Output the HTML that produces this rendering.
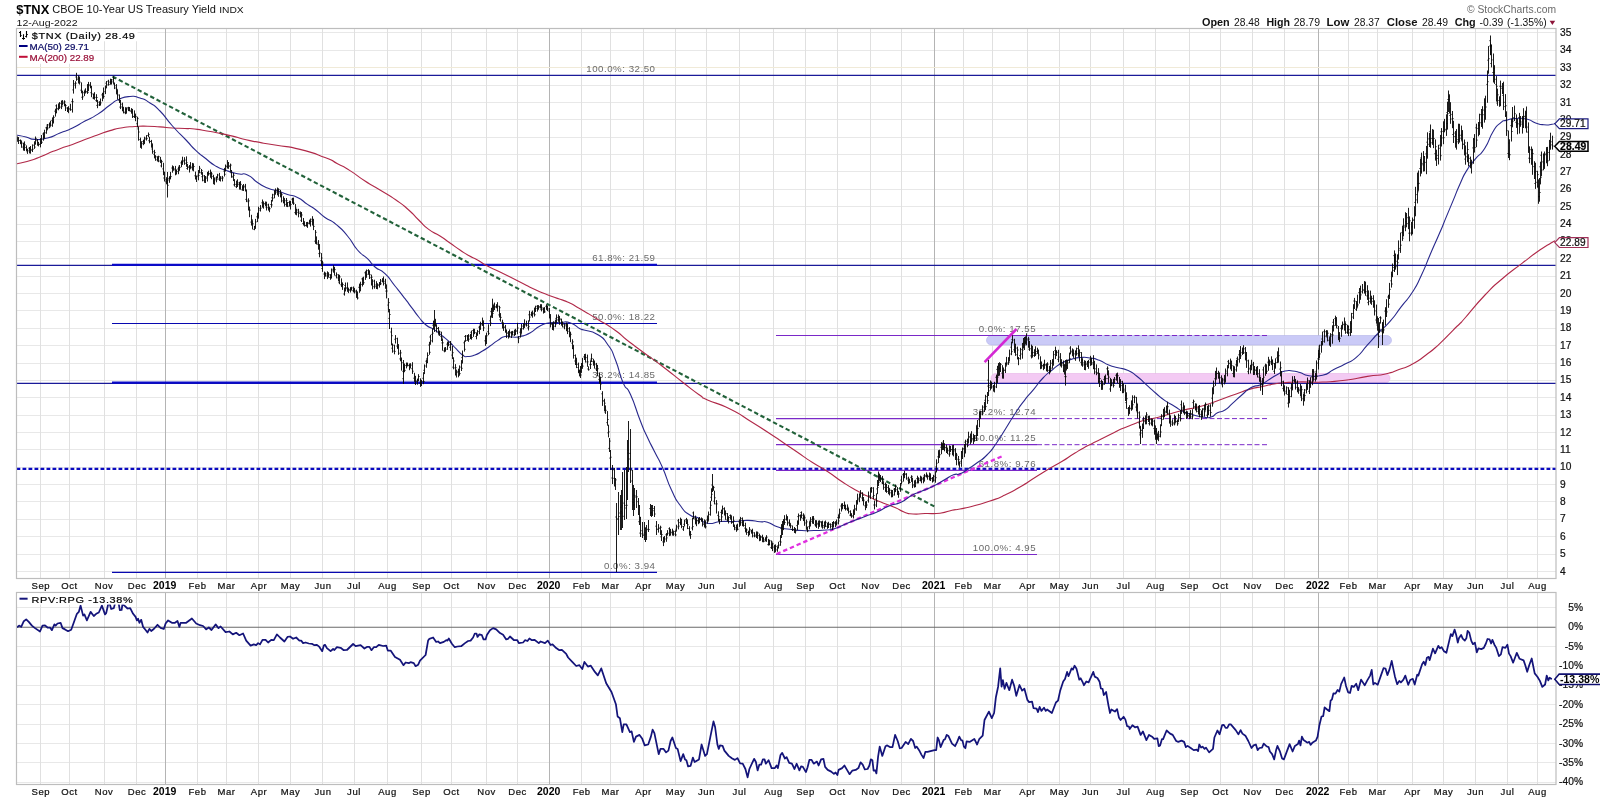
<!DOCTYPE html>
<html><head><meta charset="utf-8"><title>$TNX</title>
<style>
html,body{margin:0;padding:0;background:#fff;width:1600px;height:800px;overflow:hidden}
svg{will-change:transform}
svg text{font-family:"Liberation Sans", sans-serif}
svg text.ax{stroke:#111;stroke-width:0.22px}
</style></head><body>
<svg width="1600" height="800" viewBox="0 0 1600 800" style="position:absolute;left:0;top:0">
<rect width="1600" height="800" fill="#fff"/>
<path d="M16.5 571.5H1556.0M16.5 554.5H1556.0M16.5 536.5H1556.0M16.5 519.5H1556.0M16.5 501.5H1556.0M16.5 484.5H1556.0M16.5 467.5H1556.0M16.5 449.5H1556.0M16.5 432.5H1556.0M16.5 415.5H1556.0M16.5 397.5H1556.0M16.5 380.5H1556.0M16.5 363.5H1556.0M16.5 345.5H1556.0M16.5 328.5H1556.0M16.5 310.5H1556.0M16.5 293.5H1556.0M16.5 276.5H1556.0M16.5 258.5H1556.0M16.5 241.5H1556.0M16.5 224.5H1556.0M16.5 206.5H1556.0M16.5 189.5H1556.0M16.5 171.5H1556.0M16.5 154.5H1556.0M16.5 137.5H1556.0M16.5 119.5H1556.0M16.5 102.5H1556.0M16.5 85.5H1556.0M16.5 67.5H1556.0M16.5 50.5H1556.0M16.5 32.5H1556.0" stroke="#e8e8e8" stroke-width="1" fill="none"/>
<path d="M40.5 28.5V578.5M69.5 28.5V578.5M104.5 28.5V578.5M136.5 28.5V578.5M197.5 28.5V578.5M226.5 28.5V578.5M258.5 28.5V578.5M290.5 28.5V578.5M322.5 28.5V578.5M354.5 28.5V578.5M387.5 28.5V578.5M421.5 28.5V578.5M451.5 28.5V578.5M486.5 28.5V578.5M517.5 28.5V578.5M581.5 28.5V578.5M610.5 28.5V578.5M643.5 28.5V578.5M675.5 28.5V578.5M706.5 28.5V578.5M739.5 28.5V578.5M773.5 28.5V578.5M805.5 28.5V578.5M837.5 28.5V578.5M870.5 28.5V578.5M901.5 28.5V578.5M963.5 28.5V578.5M992.5 28.5V578.5M1027.5 28.5V578.5M1059.5 28.5V578.5M1090.5 28.5V578.5M1123.5 28.5V578.5M1155.5 28.5V578.5M1189.5 28.5V578.5M1220.5 28.5V578.5M1252.5 28.5V578.5M1284.5 28.5V578.5M1348.5 28.5V578.5M1377.5 28.5V578.5M1412.5 28.5V578.5M1443.5 28.5V578.5M1475.5 28.5V578.5M1507.5 28.5V578.5M1537.5 28.5V578.5" stroke="#e0e0e0" stroke-width="1" fill="none"/>
<path d="M165.5 28.5V578.5M549.5 28.5V578.5M934.5 28.5V578.5M1318.5 28.5V578.5" stroke="#b4b4b4" stroke-width="1" fill="none"/>
<path d="M16.5 67.5H1556.0" stroke="#f0ead8" stroke-width="1"/>
<rect x="986.5" y="335.5" width="405" height="9.5" rx="4.7" fill="#cacaf7" stroke="#b4b4ea" stroke-width="0.6"/>
<rect x="991" y="373.5" width="399" height="9.5" rx="4.7" fill="#f3caf3" stroke="#e6b2e6" stroke-width="0.6"/>
<path d="M16.5 75.4H1556.0 M16.5 265.4H1556.0 M16.5 383.45H1556.0" stroke="#1a1a99" stroke-width="1.25" fill="none"/>
<path d="M112 264.8H657 M112 382.6H657" stroke="#0a0ac8" stroke-width="2.2" fill="none"/>
<path d="M112 323.5H657 M112 572.3H657" stroke="#0808b0" stroke-width="1.15" fill="none"/>
<path d="M16.5 468.8H1556.0" stroke="#0a0ac0" stroke-width="2.2" stroke-dasharray="3.8 2.2" fill="none"/>
<path d="M776 335.5H1037M776 418.6H1037M776 444.7H1037M776 470.3H1037M776 554.5H1037" stroke="#7a28c8" stroke-width="1.2" fill="none"/>
<path d="M1037 335.5H1267M1037 418.6H1267M1037 444.7H1267" stroke="#7a28c8" stroke-width="1" stroke-dasharray="5 2.5" fill="none"/>
<text x="655.5" y="71.9" font-size="9.7" fill="#6a6a6a" text-anchor="end" letter-spacing="0.52">100.0%: 32.50</text>
<text x="655.5" y="260.6" font-size="9.7" fill="#6a6a6a" text-anchor="end" letter-spacing="0.52">61.8%: 21.59</text>
<text x="655.5" y="319.9" font-size="9.7" fill="#6a6a6a" text-anchor="end" letter-spacing="0.52">50.0%: 18.22</text>
<text x="655.5" y="378.4" font-size="9.7" fill="#6a6a6a" text-anchor="end" letter-spacing="0.52">38.2%: 14.85</text>
<text x="655.5" y="568.7" font-size="9.7" fill="#6a6a6a" text-anchor="end" letter-spacing="0.52">0.0%: 3.94</text>
<text x="1036.1" y="331.9" font-size="9.7" fill="#6a6a6a" text-anchor="end" letter-spacing="0.52">0.0%: 17.55</text>
<text x="1036.1" y="415.0" font-size="9.7" fill="#6a6a6a" text-anchor="end" letter-spacing="0.52">38.2%: 12.74</text>
<text x="1036.1" y="441.1" font-size="9.7" fill="#6a6a6a" text-anchor="end" letter-spacing="0.52">50.0%: 11.25</text>
<text x="1036.1" y="466.7" font-size="9.7" fill="#6a6a6a" text-anchor="end" letter-spacing="0.52">61.8%: 9.76</text>
<text x="1036.1" y="550.9" font-size="9.7" fill="#6a6a6a" text-anchor="end" letter-spacing="0.52">100.0%: 4.95</text>
<path d="M112.5 76.5L934.5 506.5" stroke="#22623a" stroke-width="2.1" stroke-dasharray="4.4 2.7" fill="none"/>
<path d="M776.5 554L1002 456.3" stroke="#e030e0" stroke-width="2.3" stroke-dasharray="4.4 2.9" fill="none"/>
<path d="M984.6 362.2L1016.5 329" stroke="#d428d4" stroke-width="2.6" fill="none"/>
<path d="M16.0 164.0C21.9 162.5 23.2 162.8 33.7 159.4C44.2 156.0 38.7 157.3 47.5 153.7C56.3 150.1 51.7 151.8 60.0 148.7C68.3 145.6 64.2 147.5 72.5 144.4C80.8 141.3 76.7 142.5 85.0 139.4C93.3 136.3 89.2 137.9 97.5 135.0C105.8 132.1 101.7 133.0 110.0 130.6C118.3 128.2 114.2 129.1 122.5 127.7C130.8 126.3 126.7 127.0 135.0 126.5C143.3 126.0 139.2 126.1 147.5 126.2C155.8 126.3 151.7 126.3 160.0 126.9C168.3 127.5 164.2 127.5 172.5 128.0C180.8 128.5 176.7 128.0 185.0 128.5C193.3 129.0 184.2 127.4 197.5 129.4C210.8 131.4 207.5 130.7 225.0 134.4C242.5 138.1 233.3 137.1 250.0 140.6C266.7 144.1 258.3 142.1 275.0 145.0C291.7 147.9 283.3 145.2 300.0 149.4C316.7 153.6 312.5 152.7 325.0 157.5C337.5 162.3 329.2 159.3 337.5 163.7C345.8 168.1 340.8 164.8 350.0 170.6C359.2 176.4 355.0 174.5 365.0 181.0C375.0 187.5 369.7 183.7 380.0 190.0C390.3 196.3 386.4 193.3 396.0 200.0C405.6 206.7 401.1 203.3 408.7 210.0C416.3 216.7 412.0 213.5 418.7 220.0C425.4 226.5 421.6 224.1 428.7 229.4C435.8 234.7 432.9 231.5 440.0 236.0C447.1 240.5 443.3 238.3 450.0 243.0C456.7 247.7 453.8 245.8 460.0 250.0C466.2 254.2 462.9 252.3 468.7 255.6C474.5 258.9 471.2 256.5 477.5 260.0C483.8 263.5 480.0 262.0 487.5 266.0C495.0 270.0 489.8 267.0 500.0 272.0C510.2 277.0 506.0 275.0 518.0 281.0C530.0 287.0 523.7 284.5 536.0 290.0C548.3 295.5 544.5 293.5 555.0 297.5C565.5 301.5 559.2 298.3 567.5 302.0C575.8 305.7 570.2 303.0 580.0 308.7C589.8 314.4 585.4 311.9 597.0 319.0C608.6 326.1 604.5 322.8 614.7 330.0C624.9 337.2 618.2 333.3 627.5 340.5C636.8 347.7 631.0 343.2 642.5 351.7C654.0 360.2 648.5 355.7 662.0 366.0C675.5 376.3 670.5 372.8 683.0 382.5C695.5 392.2 691.3 389.2 699.5 395.0C707.7 400.8 697.3 395.3 707.5 400.0C717.7 404.7 715.0 401.5 730.0 409.0C745.0 416.5 737.5 413.2 752.5 422.5C767.5 431.8 766.0 431.2 775.0 437.0C784.0 442.8 772.5 435.2 779.5 440.0C786.5 444.8 785.0 443.8 796.0 451.3C807.0 458.8 802.0 455.8 812.5 462.5C823.0 469.2 817.5 465.0 827.5 471.5C837.5 478.0 832.5 475.5 842.5 482.0C852.5 488.5 848.0 485.7 857.5 491.0C867.0 496.3 862.5 493.8 871.0 497.8C879.5 501.8 875.0 499.8 883.0 503.0C891.0 506.2 888.0 504.5 895.0 507.5C902.0 510.5 898.0 509.8 904.0 512.0C910.0 514.2 906.0 513.5 913.0 514.0C920.0 514.5 916.0 513.8 925.0 513.5C934.0 513.2 931.0 514.3 940.0 513.2C949.0 512.1 945.3 511.6 952.0 510.2C958.7 508.8 952.3 510.6 960.0 509.0C967.7 507.4 965.0 508.2 975.0 505.5C985.0 502.8 980.0 504.5 990.0 501.0C1000.0 497.5 995.0 499.7 1005.0 495.0C1015.0 490.3 1010.0 492.8 1020.0 487.0C1030.0 481.2 1025.4 483.5 1035.0 477.5C1044.6 471.5 1039.8 474.3 1048.7 469.0C1057.6 463.7 1053.0 466.8 1061.8 461.5C1070.6 456.2 1066.3 458.3 1075.0 453.0C1083.7 447.7 1079.3 450.3 1088.0 445.6C1096.7 440.9 1092.4 443.4 1101.2 439.0C1110.0 434.6 1108.0 435.6 1114.3 432.5C1120.6 429.4 1114.4 432.1 1120.0 429.6C1125.6 427.1 1123.1 428.1 1131.2 425.0C1139.3 421.9 1135.6 422.8 1144.4 420.3C1153.2 417.8 1148.8 419.7 1157.5 417.5C1166.2 415.3 1161.9 416.2 1170.6 413.7C1179.3 411.2 1174.9 412.2 1183.7 410.0C1192.5 407.8 1188.1 409.4 1196.9 407.2C1205.7 405.0 1201.3 406.2 1210.0 403.4C1218.7 400.6 1214.3 401.8 1223.0 398.7C1231.7 395.6 1227.4 397.1 1236.2 394.0C1245.0 390.9 1240.5 391.9 1249.3 389.4C1258.1 386.9 1253.7 388.4 1262.5 386.5C1271.3 384.6 1266.9 385.1 1275.6 383.7C1284.3 382.3 1280.0 383.0 1288.7 382.4C1297.4 381.8 1290.5 382.0 1301.8 381.9C1313.1 381.8 1308.1 382.6 1322.5 382.0C1336.9 381.4 1330.0 382.1 1345.0 380.2C1360.0 378.3 1354.0 378.5 1367.5 376.4C1381.0 374.3 1375.0 376.3 1385.5 374.0C1396.0 371.7 1390.0 372.9 1399.0 369.6C1408.0 366.3 1403.5 368.9 1412.5 364.0C1421.5 359.1 1417.0 361.7 1426.0 355.0C1435.0 348.3 1430.5 352.0 1439.5 343.8C1448.5 335.6 1446.2 337.1 1453.0 330.3C1459.8 323.5 1456.0 327.6 1460.0 323.5C1464.0 319.4 1456.7 327.5 1465.0 318.0C1473.3 308.5 1472.7 308.0 1485.0 295.0C1497.3 282.0 1489.7 289.5 1502.0 279.0C1514.3 268.5 1510.3 272.4 1522.0 263.4C1533.7 254.4 1527.3 258.8 1537.0 252.0C1546.7 245.2 1545.0 246.7 1551.0 243.0C1557.0 239.3 1553.7 241.7 1555.0 241.0" stroke="#b02848" stroke-width="1.1" fill="none" stroke-linejoin="round"/>
<path d="M16.0 135.0C19.3 135.7 19.7 135.5 26.0 137.0C32.3 138.5 27.8 139.1 35.0 139.4C42.2 139.7 39.2 140.1 47.5 138.0C55.8 135.9 51.7 136.3 60.0 133.0C68.3 129.7 64.2 132.0 72.5 128.0C80.8 124.0 76.7 125.5 85.0 121.0C93.3 116.5 89.2 119.7 97.5 114.4C105.8 109.1 102.9 110.0 110.0 105.0C117.1 100.0 112.0 102.2 118.7 99.4C125.4 96.6 122.9 97.0 130.0 96.5C137.1 96.0 133.3 95.8 140.0 98.0C146.7 100.2 143.3 98.7 150.0 103.0C156.7 107.3 152.5 103.3 160.0 111.0C167.5 118.7 163.8 116.3 172.5 126.0C181.2 135.7 178.2 131.8 186.0 140.0C193.8 148.2 189.3 144.4 196.0 150.6C202.7 156.8 199.7 153.7 206.0 158.7C212.3 163.7 208.7 161.8 215.0 165.6C221.3 169.4 217.5 167.3 225.0 170.0C232.5 172.7 230.0 172.0 237.5 173.7C245.0 175.4 240.8 172.1 247.5 175.0C254.2 177.9 250.8 178.2 257.5 182.5C264.2 186.8 260.8 185.2 267.5 188.0C274.2 190.8 270.8 188.9 277.5 191.0C284.2 193.1 280.8 192.2 287.5 194.4C294.2 196.6 290.8 194.2 297.5 197.5C304.2 200.8 301.3 200.2 307.5 204.4C313.7 208.6 310.2 205.6 316.0 210.0C321.8 214.4 318.3 212.7 325.0 217.5C331.7 222.3 328.5 218.2 336.0 224.4C343.5 230.6 340.3 227.5 347.5 236.0C354.7 244.5 350.8 242.4 357.5 250.0C364.2 257.6 361.7 253.0 367.5 258.7C373.3 264.4 369.2 262.0 375.0 267.0C380.8 272.0 378.3 267.4 385.0 273.7C391.7 280.0 388.3 277.7 395.0 286.0C401.7 294.3 399.2 291.1 405.0 298.7C410.8 306.3 407.9 302.6 412.5 308.7C417.1 314.8 414.2 311.6 418.7 317.0C423.2 322.4 421.0 320.9 426.0 325.0C431.0 329.1 428.2 325.7 433.7 329.4C439.2 333.1 437.1 331.6 442.5 336.0C447.9 340.4 445.5 338.3 450.0 342.5C454.5 346.7 451.8 344.5 456.0 348.7C460.2 352.9 458.7 352.4 462.5 355.0C466.3 357.6 463.3 356.5 467.5 356.5C471.7 356.5 470.0 356.8 475.0 355.0C480.0 353.2 477.5 354.0 482.5 351.0C487.5 348.0 485.0 349.5 490.0 346.0C495.0 342.5 492.5 343.8 497.5 340.6C502.5 337.4 500.0 337.7 505.0 336.5C510.0 335.3 507.5 337.0 512.5 337.0C517.5 337.0 514.2 337.8 520.0 336.5C525.8 335.2 523.3 336.5 530.0 333.0C536.7 329.5 533.3 329.4 540.0 326.0C546.7 322.6 543.3 323.8 550.0 322.7C556.7 321.6 553.3 322.7 560.0 322.7C566.7 322.7 563.3 320.7 570.0 322.7C576.7 324.7 575.3 326.3 580.0 328.7C584.7 331.1 578.2 328.1 584.0 330.0C589.8 331.9 589.5 329.5 597.5 334.5C605.5 339.5 602.0 336.5 608.0 345.0C614.0 353.5 610.5 347.5 615.5 360.0C620.5 372.5 618.0 371.0 623.0 382.5C628.0 394.0 624.8 382.0 630.5 394.5C636.2 407.0 634.6 406.2 640.0 420.0C645.4 433.8 641.9 425.4 646.8 436.0C651.7 446.6 649.4 441.3 654.6 451.8C659.8 462.3 656.9 454.8 662.5 467.5C668.1 480.2 665.5 477.2 671.5 490.0C677.5 502.8 674.5 497.5 680.5 505.8C686.5 514.1 683.5 510.7 689.5 514.8C695.5 518.9 692.5 515.2 698.5 518.0C704.5 520.8 700.0 522.1 707.5 523.3C715.0 524.5 712.0 522.1 721.0 521.5C730.0 520.9 725.5 521.9 734.5 521.5C743.5 521.1 739.5 520.3 748.0 520.4C756.5 520.5 753.5 521.2 760.0 521.8C766.5 522.4 761.5 520.5 767.5 522.2C773.5 523.9 770.5 524.6 778.0 527.0C785.5 529.4 782.0 528.1 790.0 529.3C798.0 530.5 794.0 530.1 802.0 530.5C810.0 530.9 806.0 530.7 814.0 530.5C822.0 530.3 819.0 530.7 826.0 530.0C833.0 529.3 829.0 530.2 835.0 528.5C841.0 526.8 838.0 527.3 844.0 524.8C850.0 522.3 846.0 523.8 853.0 521.0C860.0 518.2 857.0 519.5 865.0 516.5C873.0 513.5 869.0 515.5 877.0 512.0C885.0 508.5 881.0 509.2 889.0 506.0C897.0 502.8 893.5 505.8 901.0 502.3C908.5 498.8 904.5 499.3 911.5 495.5C918.5 491.7 914.5 494.2 922.0 491.0C929.5 487.8 926.5 489.5 934.0 485.8C941.5 482.1 938.0 483.5 944.5 479.8C951.0 476.1 948.3 476.8 953.5 474.8C958.7 472.8 955.2 475.7 960.0 473.8C964.8 471.9 962.2 472.8 968.0 469.0C973.8 465.2 971.2 467.2 977.5 462.5C983.8 457.8 980.7 461.3 986.9 455.0C993.1 448.7 989.8 452.5 996.0 443.7C1002.2 434.9 999.3 438.7 1005.6 428.7C1011.9 418.7 1008.8 423.1 1015.0 413.7C1021.2 404.3 1018.1 408.7 1024.3 400.6C1030.5 392.5 1027.5 396.9 1033.7 389.4C1039.9 381.9 1036.7 384.6 1043.0 378.0C1049.3 371.4 1046.2 374.7 1052.5 369.7C1058.8 364.7 1055.6 366.4 1061.8 363.0C1068.0 359.6 1064.9 361.2 1071.2 359.4C1077.5 357.6 1074.3 358.0 1080.6 357.5C1086.9 357.0 1083.8 357.1 1090.0 358.0C1096.2 358.9 1093.1 358.0 1099.3 360.3C1105.5 362.6 1102.5 362.5 1108.7 365.0C1114.9 367.5 1111.7 366.1 1118.0 367.8C1124.3 369.5 1121.2 367.4 1127.5 370.2C1133.8 373.0 1130.7 371.4 1136.9 376.2C1143.1 381.0 1140.0 379.1 1146.2 384.7C1152.4 390.3 1149.3 387.7 1155.6 393.0C1161.9 398.3 1158.7 396.2 1165.0 400.6C1171.3 405.0 1168.2 402.5 1174.4 406.2C1180.6 409.9 1177.5 409.0 1183.7 411.8C1189.9 414.6 1186.7 413.0 1193.0 414.7C1199.3 416.4 1196.5 416.2 1202.5 417.0C1208.5 417.8 1206.0 418.4 1211.0 417.0C1216.0 415.6 1212.8 415.1 1217.5 412.8C1222.2 410.5 1220.0 413.1 1225.0 410.0C1230.0 406.9 1226.9 408.4 1232.5 403.4C1238.1 398.4 1235.6 400.3 1241.8 395.0C1248.0 389.7 1244.9 390.9 1251.2 387.5C1257.5 384.1 1254.3 387.5 1260.6 384.7C1266.9 381.9 1264.4 382.4 1270.0 379.0C1275.6 375.6 1272.5 377.1 1277.5 374.4C1282.5 371.7 1280.0 372.1 1285.0 371.0C1290.0 369.9 1287.5 370.5 1292.5 371.0C1297.5 371.5 1294.5 370.9 1300.0 372.5C1305.5 374.1 1301.5 374.8 1309.0 375.7C1316.5 376.6 1314.2 377.3 1322.5 375.3C1330.8 373.3 1326.3 373.4 1333.8 369.6C1341.3 365.8 1337.5 368.1 1345.0 364.0C1352.5 359.9 1348.8 363.7 1356.3 357.3C1363.8 350.9 1360.0 353.2 1367.5 344.9C1375.0 336.6 1371.3 340.4 1378.8 332.5C1386.3 324.6 1382.5 329.9 1390.0 321.3C1397.5 312.7 1393.8 316.4 1401.3 306.6C1408.8 296.8 1405.8 302.5 1412.5 292.0C1419.2 281.5 1415.5 287.7 1421.5 275.0C1427.5 262.3 1424.5 267.7 1430.5 253.8C1436.5 239.9 1434.2 245.6 1439.5 233.3C1444.8 221.0 1441.7 227.9 1446.3 216.9C1450.9 205.9 1448.6 211.4 1453.2 200.4C1457.8 189.4 1455.4 194.0 1460.0 183.9C1464.6 173.8 1461.9 178.3 1467.0 170.1C1472.1 161.9 1469.3 166.5 1475.2 159.2C1481.1 151.9 1478.9 157.4 1484.8 148.2C1490.7 139.0 1487.9 140.0 1493.0 131.7C1498.1 123.4 1495.4 127.3 1500.0 123.4C1504.6 119.5 1501.3 121.7 1506.8 120.1C1512.3 118.5 1509.5 118.8 1516.4 118.5C1523.3 118.2 1521.0 117.8 1527.4 119.3C1533.8 120.8 1530.1 121.1 1535.6 122.9C1541.1 124.7 1538.4 124.3 1543.9 124.8C1549.4 125.3 1548.3 124.8 1552.0 124.3C1555.7 123.8 1554.0 123.7 1555.0 123.4" stroke="#28288c" stroke-width="1.1" fill="none" stroke-linejoin="round"/>
<path d="M17.5 136.4V141.8M17.5 139.7h-1.1M17.5 137.5h1.1M18.5 137.2V144.0M18.5 138.5h-1.1M18.5 140.6h1.1M20.5 139.5V144.2M20.5 140.4h-1.1M20.5 140.5h1.1M21.5 141.0V147.8M21.5 142.6h-1.1M21.5 143.1h1.1M23.5 142.7V150.6M23.5 147.1h-1.1M23.5 146.1h1.1M24.5 141.4V150.9M24.5 148.6h-1.1M24.5 144.8h1.1M26.5 145.4V151.0M26.5 147.5h-1.1M26.5 149.5h1.1M27.5 148.7V153.9M27.5 151.8h-1.1M27.5 150.8h1.1M29.5 147.0V153.4M29.5 148.2h-1.1M29.5 148.9h1.1M30.5 146.0V153.7M30.5 148.8h-1.1M30.5 150.3h1.1M32.5 144.4V152.0M32.5 149.7h-1.1M32.5 149.2h1.1M34.5 141.3V148.9M34.5 145.2h-1.1M34.5 147.1h1.1M35.5 136.5V144.7M35.5 143.3h-1.1M35.5 138.4h1.1M37.5 139.0V145.5M37.5 140.6h-1.1M37.5 142.2h1.1M38.5 142.0V146.4M38.5 145.0h-1.1M38.5 144.5h1.1M40.5 138.2V147.4M40.5 144.1h-1.1M40.5 143.4h1.1M41.5 135.0V144.0M41.5 141.7h-1.1M41.5 142.3h1.1M43.5 132.4V140.7M43.5 134.0h-1.1M43.5 137.7h1.1M44.5 129.7V138.7M44.5 136.2h-1.1M44.5 132.8h1.1M46.5 126.6V133.8M46.5 127.8h-1.1M46.5 130.0h1.1M47.5 124.0V129.8M47.5 125.1h-1.1M47.5 128.0h1.1M49.5 122.5V128.2M49.5 124.9h-1.1M49.5 126.8h1.1M50.5 120.7V126.5M50.5 123.8h-1.1M50.5 125.2h1.1M52.5 117.4V126.8M52.5 120.6h-1.1M52.5 121.5h1.1M53.5 115.3V123.5M53.5 122.1h-1.1M53.5 117.4h1.1M55.5 108.7V116.6M55.5 111.2h-1.1M55.5 112.6h1.1M56.5 104.4V113.3M56.5 105.8h-1.1M56.5 108.4h1.1M58.5 103.4V110.3M58.5 109.0h-1.1M58.5 107.8h1.1M59.5 102.1V108.9M59.5 106.3h-1.1M59.5 103.4h1.1M61.5 100.6V109.1M61.5 107.1h-1.1M61.5 106.6h1.1M62.5 100.1V105.5M62.5 101.3h-1.1M62.5 103.3h1.1M64.5 100.3V106.3M64.5 102.1h-1.1M64.5 101.9h1.1M65.5 103.8V111.0M65.5 104.8h-1.1M65.5 105.6h1.1M67.5 107.2V112.0M67.5 108.0h-1.1M67.5 110.8h1.1M68.5 106.2V113.2M68.5 108.4h-1.1M68.5 108.9h1.1M70.5 103.8V110.8M70.5 109.0h-1.1M70.5 109.7h1.1M72.5 98.6V112.6M72.5 101.6h-1.1M72.5 101.7h1.1M73.5 80.0V93.6M73.5 89.9h-1.1M73.5 83.6h1.1M75.5 81.3V88.6M75.5 85.1h-1.1M75.5 83.2h1.1M76.5 72.8V80.8M76.5 77.0h-1.1M76.5 79.5h1.1M78.5 75.3V83.5M78.5 78.1h-1.1M78.5 78.7h1.1M79.5 76.5V84.5M79.5 80.7h-1.1M79.5 82.1h1.1M81.5 82.4V93.3M81.5 90.2h-1.1M81.5 91.5h1.1M82.5 90.6V99.9M82.5 97.3h-1.1M82.5 96.8h1.1M84.5 90.4V96.1M84.5 92.7h-1.1M84.5 91.3h1.1M85.5 88.3V93.5M85.5 90.0h-1.1M85.5 91.6h1.1M87.5 84.2V93.9M87.5 92.0h-1.1M87.5 92.4h1.1M88.5 81.9V91.1M88.5 84.7h-1.1M88.5 84.8h1.1M90.5 82.1V88.3M90.5 85.7h-1.1M90.5 86.9h1.1M91.5 85.8V97.2M91.5 92.7h-1.1M91.5 93.9h1.1M93.5 93.6V99.2M93.5 98.0h-1.1M93.5 97.5h1.1M94.5 92.2V99.7M94.5 94.3h-1.1M94.5 97.4h1.1M96.5 94.2V101.9M96.5 100.6h-1.1M96.5 97.5h1.1M97.5 99.9V108.2M97.5 105.4h-1.1M97.5 102.2h1.1M99.5 101.2V106.0M99.5 105.0h-1.1M99.5 104.6h1.1M100.5 98.5V105.6M100.5 104.5h-1.1M100.5 102.9h1.1M102.5 92.9V101.3M102.5 94.9h-1.1M102.5 94.2h1.1M103.5 87.5V98.7M103.5 93.3h-1.1M103.5 96.5h1.1M105.5 85.5V94.1M105.5 91.7h-1.1M105.5 88.1h1.1M106.5 81.0V88.0M106.5 83.2h-1.1M106.5 84.9h1.1M108.5 79.8V85.7M108.5 81.2h-1.1M108.5 84.4h1.1M110.5 78.7V84.7M110.5 82.1h-1.1M110.5 83.4h1.1M111.5 79.0V84.6M111.5 81.8h-1.1M111.5 81.9h1.1M113.5 76.3V83.9M113.5 79.8h-1.1M113.5 78.4h1.1M114.5 82.5V89.1M114.5 84.3h-1.1M114.5 85.7h1.1M116.5 84.1V94.4M116.5 88.0h-1.1M116.5 89.3h1.1M117.5 89.5V99.6M117.5 91.8h-1.1M117.5 95.0h1.1M119.5 94.4V103.0M119.5 100.3h-1.1M119.5 98.7h1.1M120.5 100.0V109.1M120.5 107.1h-1.1M120.5 104.2h1.1M122.5 102.6V111.3M122.5 107.0h-1.1M122.5 108.1h1.1M123.5 106.8V113.4M123.5 110.0h-1.1M123.5 112.1h1.1M125.5 107.2V114.2M125.5 112.8h-1.1M125.5 109.5h1.1M126.5 107.4V113.7M126.5 112.0h-1.1M126.5 108.9h1.1M128.5 106.8V111.1M128.5 107.6h-1.1M128.5 108.1h1.1M129.5 107.0V111.3M129.5 110.0h-1.1M129.5 110.4h1.1M131.5 108.1V113.7M131.5 111.5h-1.1M131.5 109.5h1.1M132.5 108.9V118.0M132.5 111.7h-1.1M132.5 116.4h1.1M134.5 110.4V117.8M134.5 116.7h-1.1M134.5 115.9h1.1M135.5 113.6V121.2M135.5 117.5h-1.1M135.5 116.6h1.1M137.5 116.7V127.4M137.5 123.7h-1.1M137.5 118.4h1.1M138.5 126.6V140.7M138.5 128.9h-1.1M138.5 132.0h1.1M140.5 137.6V147.9M140.5 139.6h-1.1M140.5 146.2h1.1M141.5 141.2V148.8M141.5 142.9h-1.1M141.5 143.7h1.1M143.5 139.7V145.2M143.5 141.6h-1.1M143.5 141.0h1.1M144.5 136.7V144.1M144.5 142.0h-1.1M144.5 139.1h1.1M146.5 135.1V140.6M146.5 138.1h-1.1M146.5 138.6h1.1M148.5 132.5V137.2M148.5 135.5h-1.1M148.5 134.6h1.1M149.5 136.8V143.3M149.5 140.7h-1.1M149.5 141.5h1.1M151.5 139.9V147.7M151.5 141.4h-1.1M151.5 145.8h1.1M152.5 143.4V153.8M152.5 149.0h-1.1M152.5 151.7h1.1M154.5 149.8V158.4M154.5 154.3h-1.1M154.5 152.6h1.1M155.5 155.2V160.8M155.5 156.2h-1.1M155.5 156.8h1.1M157.5 156.2V161.5M157.5 159.8h-1.1M157.5 158.0h1.1M158.5 155.7V162.2M158.5 158.2h-1.1M158.5 156.7h1.1M160.5 156.9V163.1M160.5 161.0h-1.1M160.5 160.2h1.1M161.5 159.9V167.4M161.5 165.9h-1.1M161.5 161.6h1.1M163.5 162.8V175.2M163.5 168.9h-1.1M163.5 171.9h1.1M164.5 172.0V181.5M164.5 178.0h-1.1M164.5 179.9h1.1M166.5 177.2V184.3M166.5 181.8h-1.1M166.5 181.4h1.1M167.5 178.7V184.4M167.5 179.7h-1.1M167.5 180.0h1.1M169.5 176.2V182.8M169.5 178.4h-1.1M169.5 178.0h1.1M170.5 171.9V179.4M170.5 177.6h-1.1M170.5 176.6h1.1M172.5 165.4V172.7M172.5 168.0h-1.1M172.5 168.8h1.1M173.5 166.2V170.7M173.5 167.7h-1.1M173.5 169.9h1.1M175.5 165.9V175.3M175.5 168.9h-1.1M175.5 173.7h1.1M176.5 169.5V174.5M176.5 170.3h-1.1M176.5 171.6h1.1M178.5 166.9V174.2M178.5 169.0h-1.1M178.5 170.6h1.1M179.5 165.0V170.6M179.5 166.2h-1.1M179.5 167.4h1.1M181.5 160.5V167.2M181.5 162.9h-1.1M181.5 162.6h1.1M182.5 156.7V164.9M182.5 162.3h-1.1M182.5 161.7h1.1M184.5 157.2V164.8M184.5 160.4h-1.1M184.5 160.1h1.1M186.5 156.4V166.8M186.5 163.3h-1.1M186.5 162.7h1.1M187.5 164.0V169.8M187.5 168.5h-1.1M187.5 167.4h1.1M189.5 165.0V172.5M189.5 166.8h-1.1M189.5 168.9h1.1M190.5 162.1V168.8M190.5 166.9h-1.1M190.5 167.0h1.1M192.5 162.9V170.6M192.5 167.8h-1.1M192.5 167.8h1.1M193.5 163.3V171.3M193.5 165.3h-1.1M193.5 166.5h1.1M195.5 171.6V179.4M195.5 175.8h-1.1M195.5 176.2h1.1M196.5 175.6V182.0M196.5 178.8h-1.1M196.5 176.6h1.1M198.5 170.1V180.3M198.5 175.2h-1.1M198.5 175.4h1.1M199.5 165.9V173.3M199.5 170.8h-1.1M199.5 168.3h1.1M201.5 169.0V174.7M201.5 172.7h-1.1M201.5 170.6h1.1M202.5 172.1V181.3M202.5 176.7h-1.1M202.5 175.9h1.1M204.5 175.0V182.8M204.5 180.3h-1.1M204.5 179.5h1.1M205.5 176.0V183.0M205.5 177.8h-1.1M205.5 178.3h1.1M207.5 171.9V181.5M207.5 177.1h-1.1M207.5 173.4h1.1M208.5 170.7V175.7M208.5 173.8h-1.1M208.5 173.9h1.1M210.5 169.6V177.3M210.5 173.6h-1.1M210.5 173.3h1.1M211.5 171.8V179.2M211.5 177.5h-1.1M211.5 173.9h1.1M213.5 174.8V184.2M213.5 176.4h-1.1M213.5 179.2h1.1M214.5 177.4V184.8M214.5 180.9h-1.1M214.5 179.9h1.1M216.5 176.3V182.3M216.5 178.1h-1.1M216.5 179.6h1.1M217.5 173.8V178.5M217.5 177.6h-1.1M217.5 175.0h1.1M219.5 172.9V180.9M219.5 179.1h-1.1M219.5 178.0h1.1M220.5 176.2V181.5M220.5 178.8h-1.1M220.5 177.1h1.1M222.5 175.9V181.4M222.5 178.5h-1.1M222.5 177.9h1.1M224.5 167.9V176.5M224.5 171.1h-1.1M224.5 174.3h1.1M225.5 164.5V171.5M225.5 169.7h-1.1M225.5 166.1h1.1M227.5 160.1V168.5M227.5 166.7h-1.1M227.5 163.1h1.1M228.5 162.0V168.8M228.5 167.8h-1.1M228.5 165.8h1.1M230.5 163.6V171.7M230.5 166.4h-1.1M230.5 165.1h1.1M231.5 170.0V177.8M231.5 172.7h-1.1M231.5 176.3h1.1M233.5 173.0V181.1M233.5 177.1h-1.1M233.5 175.3h1.1M234.5 179.1V186.5M234.5 184.8h-1.1M234.5 184.4h1.1M236.5 180.6V188.1M236.5 186.7h-1.1M236.5 184.6h1.1M237.5 179.3V187.0M237.5 184.4h-1.1M237.5 182.9h1.1M239.5 181.8V189.6M239.5 184.6h-1.1M239.5 183.3h1.1M240.5 181.1V189.7M240.5 185.2h-1.1M240.5 184.4h1.1M242.5 185.2V190.7M242.5 189.8h-1.1M242.5 187.0h1.1M243.5 184.0V191.0M243.5 187.8h-1.1M243.5 187.0h1.1M245.5 183.9V191.5M245.5 186.1h-1.1M245.5 189.9h1.1M246.5 189.7V202.1M246.5 199.4h-1.1M246.5 200.2h1.1M248.5 198.3V210.3M248.5 201.7h-1.1M248.5 200.9h1.1M249.5 206.6V217.2M249.5 210.0h-1.1M249.5 210.1h1.1M251.5 214.8V225.6M251.5 222.1h-1.1M251.5 219.6h1.1M252.5 220.2V229.4M252.5 224.0h-1.1M252.5 223.8h1.1M254.5 225.9V230.2M254.5 229.4h-1.1M254.5 226.9h1.1M255.5 218.9V228.9M255.5 226.4h-1.1M255.5 221.9h1.1M257.5 212.7V222.1M257.5 216.8h-1.1M257.5 217.1h1.1M258.5 206.7V218.7M258.5 215.8h-1.1M258.5 208.6h1.1M260.5 205.1V211.5M260.5 210.1h-1.1M260.5 208.2h1.1M262.5 199.5V207.2M262.5 202.8h-1.1M262.5 205.7h1.1M263.5 201.4V208.7M263.5 207.4h-1.1M263.5 203.7h1.1M265.5 201.5V206.0M265.5 203.8h-1.1M265.5 204.3h1.1M266.5 201.7V210.5M266.5 207.0h-1.1M266.5 207.7h1.1M268.5 203.7V210.4M268.5 204.9h-1.1M268.5 208.4h1.1M269.5 206.7V212.2M269.5 210.0h-1.1M269.5 208.7h1.1M271.5 199.9V207.7M271.5 204.5h-1.1M271.5 204.9h1.1M272.5 193.8V201.5M272.5 197.8h-1.1M272.5 198.1h1.1M274.5 190.2V198.3M274.5 194.8h-1.1M274.5 191.5h1.1M275.5 188.4V194.7M275.5 193.6h-1.1M275.5 192.2h1.1M277.5 187.5V195.3M277.5 190.0h-1.1M277.5 190.0h1.1M278.5 188.3V196.8M278.5 191.4h-1.1M278.5 189.7h1.1M280.5 189.8V197.4M280.5 193.1h-1.1M280.5 192.3h1.1M281.5 193.0V202.4M281.5 195.9h-1.1M281.5 194.7h1.1M283.5 196.3V203.4M283.5 200.8h-1.1M283.5 198.4h1.1M284.5 198.3V206.6M284.5 202.4h-1.1M284.5 200.7h1.1M286.5 198.0V206.8M286.5 204.4h-1.1M286.5 200.7h1.1M287.5 202.0V207.1M287.5 203.8h-1.1M287.5 206.2h1.1M289.5 200.7V206.6M289.5 202.5h-1.1M289.5 203.3h1.1M290.5 200.9V209.5M290.5 203.1h-1.1M290.5 204.6h1.1M292.5 197.8V203.3M292.5 199.2h-1.1M292.5 198.8h1.1M293.5 197.6V204.9M293.5 203.3h-1.1M293.5 203.2h1.1M295.5 204.1V214.7M295.5 212.6h-1.1M295.5 208.1h1.1M296.5 208.9V215.3M296.5 213.2h-1.1M296.5 210.0h1.1M298.5 208.8V217.3M298.5 212.3h-1.1M298.5 212.1h1.1M300.5 211.4V217.4M300.5 213.5h-1.1M300.5 213.8h1.1M301.5 212.0V222.0M301.5 220.3h-1.1M301.5 215.0h1.1M303.5 218.0V225.5M303.5 223.5h-1.1M303.5 221.4h1.1M304.5 221.5V226.6M304.5 223.6h-1.1M304.5 225.6h1.1M306.5 222.1V226.5M306.5 225.5h-1.1M306.5 222.8h1.1M307.5 221.9V227.9M307.5 226.0h-1.1M307.5 223.0h1.1M309.5 219.7V224.4M309.5 223.4h-1.1M309.5 221.3h1.1M310.5 218.5V226.6M310.5 221.6h-1.1M310.5 221.3h1.1M312.5 216.2V225.5M312.5 219.3h-1.1M312.5 222.2h1.1M313.5 218.8V230.1M313.5 220.5h-1.1M313.5 226.4h1.1M315.5 230.0V243.8M315.5 241.2h-1.1M315.5 232.3h1.1M316.5 236.4V244.5M316.5 243.0h-1.1M316.5 243.0h1.1M318.5 240.1V249.7M318.5 244.4h-1.1M318.5 244.8h1.1M319.5 244.2V257.3M319.5 253.6h-1.1M319.5 253.0h1.1M321.5 253.1V266.3M321.5 260.7h-1.1M321.5 258.1h1.1M322.5 260.7V271.9M322.5 268.5h-1.1M322.5 263.0h1.1M324.5 271.6V279.1M324.5 274.0h-1.1M324.5 273.1h1.1M325.5 272.6V276.6M325.5 274.1h-1.1M325.5 275.9h1.1M327.5 271.3V279.1M327.5 273.9h-1.1M327.5 272.9h1.1M328.5 272.4V277.6M328.5 275.8h-1.1M328.5 274.8h1.1M330.5 274.3V279.8M330.5 277.5h-1.1M330.5 277.7h1.1M331.5 268.5V278.5M331.5 274.7h-1.1M331.5 270.8h1.1M333.5 265.1V272.7M333.5 269.3h-1.1M333.5 268.3h1.1M334.5 266.8V275.6M334.5 269.6h-1.1M334.5 269.6h1.1M336.5 272.4V278.4M336.5 275.7h-1.1M336.5 274.7h1.1M338.5 274.2V281.4M338.5 277.9h-1.1M338.5 276.5h1.1M339.5 274.8V284.2M339.5 282.7h-1.1M339.5 276.9h1.1M341.5 278.4V287.1M341.5 284.8h-1.1M341.5 285.3h1.1M342.5 282.4V289.9M342.5 284.2h-1.1M342.5 284.5h1.1M344.5 287.5V295.6M344.5 294.0h-1.1M344.5 290.9h1.1M345.5 282.5V291.3M345.5 285.5h-1.1M345.5 288.7h1.1M347.5 282.4V291.8M347.5 287.7h-1.1M347.5 287.9h1.1M348.5 288.1V293.1M348.5 289.3h-1.1M348.5 289.5h1.1M350.5 287.1V292.5M350.5 290.4h-1.1M350.5 288.7h1.1M351.5 286.8V290.6M351.5 289.2h-1.1M351.5 287.9h1.1M353.5 286.5V292.4M353.5 290.7h-1.1M353.5 289.6h1.1M354.5 287.9V293.5M354.5 290.3h-1.1M354.5 290.9h1.1M356.5 289.7V297.9M356.5 291.9h-1.1M356.5 295.0h1.1M357.5 291.4V299.5M357.5 294.4h-1.1M357.5 298.0h1.1M359.5 283.6V292.8M359.5 287.3h-1.1M359.5 287.7h1.1M360.5 281.7V291.3M360.5 285.6h-1.1M360.5 284.5h1.1M362.5 277.5V286.5M362.5 278.9h-1.1M362.5 284.5h1.1M363.5 276.7V284.6M363.5 280.1h-1.1M363.5 282.7h1.1M365.5 271.4V279.9M365.5 272.8h-1.1M365.5 275.9h1.1M366.5 269.5V277.8M366.5 271.3h-1.1M366.5 274.3h1.1M368.5 269.2V274.8M368.5 270.6h-1.1M368.5 271.1h1.1M369.5 270.4V279.0M369.5 272.4h-1.1M369.5 274.7h1.1M371.5 274.6V285.5M371.5 277.7h-1.1M371.5 277.2h1.1M372.5 279.2V289.3M372.5 284.1h-1.1M372.5 281.1h1.1M374.5 279.7V288.7M374.5 286.7h-1.1M374.5 285.0h1.1M376.5 281.2V289.0M376.5 286.7h-1.1M376.5 283.6h1.1M377.5 283.6V289.3M377.5 287.8h-1.1M377.5 285.2h1.1M379.5 282.0V287.6M379.5 284.9h-1.1M379.5 284.4h1.1M380.5 279.0V285.1M380.5 283.0h-1.1M380.5 283.8h1.1M382.5 278.3V282.3M382.5 281.0h-1.1M382.5 279.0h1.1M383.5 276.5V285.5M383.5 281.6h-1.1M383.5 281.3h1.1M385.5 278.8V288.8M385.5 283.3h-1.1M385.5 284.4h1.1M386.5 284.8V298.4M386.5 291.1h-1.1M386.5 291.0h1.1M388.5 298.1V312.4M388.5 305.1h-1.1M388.5 302.6h1.1M389.5 309.0V329.0M389.5 318.4h-1.1M389.5 314.5h1.1M391.5 327.7V345.3M391.5 332.0h-1.1M391.5 335.7h1.1M392.5 343.5V352.7M392.5 348.2h-1.1M392.5 345.2h1.1M394.5 344.7V354.3M394.5 351.1h-1.1M394.5 351.4h1.1M395.5 335.1V343.5M395.5 339.3h-1.1M395.5 338.6h1.1M397.5 337.7V348.9M397.5 346.1h-1.1M397.5 347.2h1.1M398.5 344.1V354.9M398.5 347.2h-1.1M398.5 353.2h1.1M400.5 349.9V361.3M400.5 358.9h-1.1M400.5 352.9h1.1M401.5 357.5V370.6M401.5 360.0h-1.1M401.5 362.7h1.1M403.5 364.1V373.4M403.5 371.3h-1.1M403.5 367.3h1.1M404.5 363.5V372.2M404.5 367.9h-1.1M404.5 370.4h1.1M406.5 362.5V368.4M406.5 365.5h-1.1M406.5 364.7h1.1M407.5 362.6V366.4M407.5 363.6h-1.1M407.5 365.6h1.1M409.5 363.5V370.2M409.5 365.3h-1.1M409.5 368.2h1.1M410.5 363.2V368.0M410.5 366.0h-1.1M410.5 365.1h1.1M412.5 362.2V373.9M412.5 368.7h-1.1M412.5 371.2h1.1M414.5 372.8V381.9M414.5 378.2h-1.1M414.5 376.7h1.1M415.5 375.8V385.0M415.5 383.5h-1.1M415.5 380.9h1.1M417.5 378.7V384.7M417.5 381.5h-1.1M417.5 380.3h1.1M418.5 374.2V381.2M418.5 379.3h-1.1M418.5 376.5h1.1M420.5 378.3V386.9M420.5 383.2h-1.1M420.5 383.6h1.1M421.5 379.9V386.0M421.5 381.0h-1.1M421.5 381.5h1.1M423.5 372.2V384.2M423.5 378.3h-1.1M423.5 381.5h1.1M424.5 364.4V374.1M424.5 370.3h-1.1M424.5 366.0h1.1M426.5 359.4V367.8M426.5 361.2h-1.1M426.5 362.7h1.1M427.5 352.4V363.1M427.5 358.4h-1.1M427.5 355.5h1.1M429.5 341.8V354.8M429.5 345.0h-1.1M429.5 352.3h1.1M430.5 334.8V344.8M430.5 337.0h-1.1M430.5 340.8h1.1M432.5 328.4V342.4M432.5 334.4h-1.1M432.5 333.1h1.1M433.5 320.7V329.0M433.5 325.2h-1.1M433.5 324.0h1.1M435.5 318.8V326.5M435.5 325.0h-1.1M435.5 323.9h1.1M436.5 324.3V332.4M436.5 325.8h-1.1M436.5 328.5h1.1M438.5 327.0V334.6M438.5 328.4h-1.1M438.5 332.3h1.1M439.5 330.6V335.9M439.5 334.9h-1.1M439.5 331.9h1.1M441.5 331.7V341.0M441.5 336.4h-1.1M441.5 337.2h1.1M442.5 338.4V350.7M442.5 342.9h-1.1M442.5 342.8h1.1M444.5 347.4V352.3M444.5 350.8h-1.1M444.5 350.6h1.1M445.5 347.0V351.7M445.5 350.1h-1.1M445.5 349.2h1.1M447.5 341.6V349.9M447.5 344.2h-1.1M447.5 343.5h1.1M448.5 341.3V346.2M448.5 343.2h-1.1M448.5 344.7h1.1M450.5 341.0V350.8M450.5 347.3h-1.1M450.5 344.3h1.1M452.5 345.9V359.1M452.5 355.1h-1.1M452.5 352.7h1.1M453.5 357.3V369.3M453.5 367.2h-1.1M453.5 361.0h1.1M455.5 364.1V375.4M455.5 367.9h-1.1M455.5 367.7h1.1M456.5 369.6V377.5M456.5 374.9h-1.1M456.5 372.6h1.1M458.5 368.7V377.3M458.5 371.4h-1.1M458.5 375.5h1.1M459.5 365.4V375.3M459.5 371.5h-1.1M459.5 373.6h1.1M461.5 360.1V371.0M461.5 367.1h-1.1M461.5 368.3h1.1M462.5 350.5V363.5M462.5 357.6h-1.1M462.5 355.2h1.1M464.5 340.5V351.6M464.5 342.8h-1.1M464.5 349.3h1.1M465.5 335.0V341.8M465.5 336.5h-1.1M465.5 340.5h1.1M467.5 335.0V340.8M467.5 336.0h-1.1M467.5 336.0h1.1M468.5 334.1V341.8M468.5 339.0h-1.1M468.5 339.2h1.1M470.5 333.9V339.1M470.5 336.0h-1.1M470.5 337.7h1.1M471.5 330.6V339.7M471.5 332.3h-1.1M471.5 337.5h1.1M473.5 328.7V336.9M473.5 330.5h-1.1M473.5 331.1h1.1M474.5 328.8V334.2M474.5 332.8h-1.1M474.5 332.6h1.1M476.5 332.4V339.3M476.5 336.5h-1.1M476.5 334.8h1.1M477.5 329.9V335.8M477.5 333.9h-1.1M477.5 331.6h1.1M479.5 325.8V334.2M479.5 327.2h-1.1M479.5 328.6h1.1M480.5 321.7V329.9M480.5 325.0h-1.1M480.5 324.8h1.1M482.5 317.6V325.8M482.5 323.7h-1.1M482.5 322.4h1.1M483.5 320.3V331.1M483.5 325.2h-1.1M483.5 327.8h1.1M485.5 335.3V345.8M485.5 340.8h-1.1M485.5 338.5h1.1M486.5 332.7V344.0M486.5 340.9h-1.1M486.5 335.8h1.1M488.5 324.3V335.2M488.5 331.7h-1.1M488.5 333.4h1.1M490.5 315.6V326.1M490.5 320.8h-1.1M490.5 323.1h1.1M491.5 307.8V317.6M491.5 311.6h-1.1M491.5 314.9h1.1M493.5 304.8V311.9M493.5 307.3h-1.1M493.5 306.9h1.1M494.5 302.6V310.0M494.5 304.3h-1.1M494.5 307.0h1.1M496.5 304.2V308.3M496.5 306.8h-1.1M496.5 307.1h1.1M497.5 302.2V311.5M497.5 306.2h-1.1M497.5 306.2h1.1M499.5 305.8V317.6M499.5 314.9h-1.1M499.5 307.7h1.1M500.5 313.1V321.6M500.5 319.7h-1.1M500.5 317.4h1.1M502.5 319.7V328.1M502.5 322.3h-1.1M502.5 323.6h1.1M503.5 322.4V330.9M503.5 328.2h-1.1M503.5 327.5h1.1M505.5 324.9V332.7M505.5 326.9h-1.1M505.5 330.7h1.1M506.5 329.4V338.1M506.5 331.7h-1.1M506.5 333.3h1.1M508.5 331.2V338.6M508.5 332.9h-1.1M508.5 334.7h1.1M509.5 329.4V337.3M509.5 331.6h-1.1M509.5 332.3h1.1M511.5 331.2V338.0M511.5 332.9h-1.1M511.5 332.9h1.1M512.5 330.9V335.6M512.5 333.3h-1.1M512.5 332.1h1.1M514.5 329.8V336.0M514.5 334.9h-1.1M514.5 333.9h1.1M515.5 328.8V335.1M515.5 330.2h-1.1M515.5 331.5h1.1M517.5 322.8V334.3M517.5 330.4h-1.1M517.5 328.0h1.1M518.5 336.2V343.2M518.5 337.8h-1.1M518.5 338.2h1.1M520.5 328.2V337.6M520.5 332.2h-1.1M520.5 334.8h1.1M521.5 324.0V333.8M521.5 329.8h-1.1M521.5 328.7h1.1M523.5 323.5V329.6M523.5 326.1h-1.1M523.5 327.6h1.1M524.5 319.3V327.8M524.5 324.0h-1.1M524.5 325.0h1.1M526.5 320.7V326.6M526.5 324.6h-1.1M526.5 325.2h1.1M528.5 320.3V330.5M528.5 327.9h-1.1M528.5 326.7h1.1M529.5 310.8V321.5M529.5 314.8h-1.1M529.5 317.1h1.1M531.5 311.7V316.2M531.5 314.8h-1.1M531.5 314.6h1.1M532.5 310.6V317.7M532.5 313.8h-1.1M532.5 313.9h1.1M534.5 307.6V316.5M534.5 313.1h-1.1M534.5 314.7h1.1M535.5 305.7V312.0M535.5 310.1h-1.1M535.5 308.4h1.1M537.5 305.1V311.6M537.5 306.3h-1.1M537.5 308.6h1.1M538.5 305.1V309.7M538.5 308.8h-1.1M538.5 307.4h1.1M540.5 304.2V308.5M540.5 306.5h-1.1M540.5 307.0h1.1M541.5 304.2V311.4M541.5 309.4h-1.1M541.5 307.9h1.1M543.5 307.5V313.6M543.5 309.3h-1.1M543.5 311.3h1.1M544.5 307.1V312.9M544.5 308.5h-1.1M544.5 311.9h1.1M546.5 304.4V309.9M546.5 306.3h-1.1M546.5 306.8h1.1M547.5 305.4V311.1M547.5 307.9h-1.1M547.5 309.0h1.1M549.5 308.0V318.0M549.5 311.1h-1.1M549.5 314.7h1.1M550.5 314.2V327.4M550.5 318.2h-1.1M550.5 323.6h1.1M552.5 322.8V330.0M552.5 324.5h-1.1M552.5 327.8h1.1M553.5 321.3V330.5M553.5 325.7h-1.1M553.5 326.3h1.1M555.5 319.6V327.2M555.5 322.6h-1.1M555.5 324.1h1.1M556.5 314.4V322.8M556.5 318.4h-1.1M556.5 317.4h1.1M558.5 314.5V321.8M558.5 319.9h-1.1M558.5 317.4h1.1M559.5 315.9V324.8M559.5 319.5h-1.1M559.5 318.8h1.1M561.5 318.6V325.7M561.5 319.7h-1.1M561.5 323.3h1.1M562.5 321.4V327.4M562.5 323.5h-1.1M562.5 324.3h1.1M564.5 323.4V329.3M564.5 327.0h-1.1M564.5 325.8h1.1M566.5 322.6V331.2M566.5 324.3h-1.1M566.5 328.9h1.1M567.5 323.5V334.1M567.5 326.1h-1.1M567.5 331.3h1.1M569.5 327.1V337.3M569.5 328.7h-1.1M569.5 335.4h1.1M570.5 331.7V342.2M570.5 334.0h-1.1M570.5 334.3h1.1M572.5 339.3V349.2M572.5 343.2h-1.1M572.5 341.9h1.1M573.5 344.8V358.6M573.5 348.5h-1.1M573.5 355.5h1.1M575.5 354.4V365.0M575.5 361.0h-1.1M575.5 362.7h1.1M576.5 357.7V368.1M576.5 360.7h-1.1M576.5 364.3h1.1M578.5 362.6V373.2M578.5 367.5h-1.1M578.5 370.7h1.1M579.5 369.6V376.4M579.5 371.7h-1.1M579.5 371.3h1.1M581.5 363.0V372.9M581.5 367.7h-1.1M581.5 365.5h1.1M582.5 357.9V368.8M582.5 363.7h-1.1M582.5 366.1h1.1M584.5 354.0V360.0M584.5 356.9h-1.1M584.5 357.2h1.1M585.5 353.7V362.6M585.5 357.4h-1.1M585.5 357.6h1.1M587.5 354.6V366.8M587.5 361.9h-1.1M587.5 361.9h1.1M588.5 366.3V370.6M588.5 369.0h-1.1M588.5 369.7h1.1M590.5 360.3V369.0M590.5 364.7h-1.1M590.5 364.5h1.1M591.5 353.6V362.0M591.5 359.1h-1.1M591.5 358.6h1.1M593.5 358.8V365.7M593.5 361.6h-1.1M593.5 362.1h1.1M594.5 360.5V368.6M594.5 362.9h-1.1M594.5 364.1h1.1M596.5 362.9V371.1M596.5 368.9h-1.1M596.5 365.8h1.1M597.5 364.9V376.2M597.5 370.6h-1.1M597.5 368.7h1.1M599.5 372.8V383.7M599.5 379.4h-1.1M599.5 380.5h1.1M600.5 376.7V389.9M600.5 381.4h-1.1M600.5 384.1h1.1M602.5 391.2V405.9M602.5 393.8h-1.1M602.5 400.8h1.1M604.5 398.7V411.2M604.5 401.0h-1.1M604.5 403.2h1.1M605.5 405.4V413.9M605.5 412.1h-1.1M605.5 410.3h1.1M607.5 411.1V425.7M607.5 422.6h-1.1M607.5 419.5h1.1M608.5 424.7V437.4M608.5 432.8h-1.1M608.5 431.9h1.1M658.5 524.1V532.6M658.5 529.3h-1.1M658.5 528.1h1.1M660.5 525.7V534.9M660.5 528.2h-1.1M660.5 527.3h1.1M661.5 530.2V541.0M661.5 536.8h-1.1M661.5 534.6h1.1M663.5 536.9V546.1M663.5 541.9h-1.1M663.5 540.0h1.1M664.5 536.0V542.6M664.5 538.4h-1.1M664.5 539.0h1.1M666.5 533.2V541.8M666.5 534.8h-1.1M666.5 537.9h1.1M667.5 530.1V535.6M667.5 534.0h-1.1M667.5 533.2h1.1M669.5 527.3V536.1M669.5 528.7h-1.1M669.5 531.0h1.1M670.5 528.9V535.7M670.5 534.6h-1.1M670.5 532.2h1.1M672.5 528.7V535.6M672.5 532.8h-1.1M672.5 530.8h1.1M673.5 531.2V535.8M673.5 531.9h-1.1M673.5 534.1h1.1M675.5 530.2V536.4M675.5 531.5h-1.1M675.5 534.9h1.1M676.5 524.7V531.6M676.5 529.2h-1.1M676.5 526.9h1.1M678.5 518.9V529.4M678.5 520.8h-1.1M678.5 526.1h1.1M680.5 517.6V525.1M680.5 522.6h-1.1M680.5 519.2h1.1M681.5 519.0V528.2M681.5 523.4h-1.1M681.5 526.4h1.1M683.5 526.0V530.9M683.5 529.2h-1.1M683.5 526.7h1.1M684.5 519.7V526.0M684.5 524.3h-1.1M684.5 521.0h1.1M686.5 517.9V524.0M686.5 519.5h-1.1M686.5 522.5h1.1M687.5 519.4V529.1M687.5 523.4h-1.1M687.5 524.8h1.1M689.5 526.2V535.4M689.5 528.5h-1.1M689.5 532.7h1.1M690.5 531.0V538.9M690.5 535.7h-1.1M690.5 534.5h1.1M692.5 517.7V530.4M692.5 528.0h-1.1M692.5 526.6h1.1M693.5 511.5V519.2M693.5 512.9h-1.1M693.5 517.9h1.1M695.5 515.6V524.4M695.5 519.0h-1.1M695.5 520.7h1.1M696.5 517.9V526.2M696.5 522.6h-1.1M696.5 520.9h1.1M698.5 517.9V524.2M698.5 520.5h-1.1M698.5 521.8h1.1M699.5 517.0V523.3M699.5 521.5h-1.1M699.5 519.2h1.1M701.5 517.4V521.8M701.5 519.4h-1.1M701.5 519.9h1.1M702.5 518.3V526.5M702.5 519.8h-1.1M702.5 524.3h1.1M704.5 519.4V527.5M704.5 523.9h-1.1M704.5 522.2h1.1M705.5 520.3V528.5M705.5 525.5h-1.1M705.5 526.8h1.1M707.5 515.5V523.7M707.5 519.9h-1.1M707.5 521.3h1.1M708.5 511.5V520.9M708.5 519.1h-1.1M708.5 514.4h1.1M710.5 500.9V515.7M710.5 508.0h-1.1M710.5 505.3h1.1M711.5 488.3V501.1M711.5 497.3h-1.1M711.5 494.3h1.1M713.5 485.8V490.8M713.5 489.2h-1.1M713.5 487.4h1.1M714.5 490.7V504.4M714.5 501.2h-1.1M714.5 497.8h1.1M716.5 500.1V513.5M716.5 503.9h-1.1M716.5 503.9h1.1M718.5 511.3V521.5M718.5 515.4h-1.1M718.5 516.8h1.1M719.5 518.7V524.2M719.5 520.1h-1.1M719.5 519.7h1.1M721.5 509.6V521.9M721.5 512.4h-1.1M721.5 516.9h1.1M722.5 505.6V514.2M722.5 510.5h-1.1M722.5 508.9h1.1M724.5 507.3V515.0M724.5 508.7h-1.1M724.5 513.8h1.1M725.5 510.4V519.9M725.5 515.6h-1.1M725.5 513.6h1.1M727.5 513.0V521.5M727.5 519.9h-1.1M727.5 518.8h1.1M728.5 516.2V523.5M728.5 518.6h-1.1M728.5 517.5h1.1M730.5 514.5V519.0M730.5 515.5h-1.1M730.5 515.4h1.1M731.5 515.7V523.8M731.5 519.5h-1.1M731.5 522.3h1.1M733.5 516.3V526.9M733.5 522.3h-1.1M733.5 520.8h1.1M734.5 524.5V530.2M734.5 526.4h-1.1M734.5 527.6h1.1M736.5 524.6V531.8M736.5 529.1h-1.1M736.5 527.7h1.1M737.5 523.7V530.4M737.5 529.2h-1.1M737.5 529.3h1.1M739.5 519.3V526.9M739.5 521.8h-1.1M739.5 522.3h1.1M740.5 516.9V525.8M740.5 523.4h-1.1M740.5 518.5h1.1M742.5 517.4V526.2M742.5 522.7h-1.1M742.5 524.7h1.1M743.5 520.3V526.7M743.5 524.7h-1.1M743.5 525.5h1.1M745.5 522.7V532.4M745.5 528.2h-1.1M745.5 529.3h1.1M746.5 528.4V534.9M746.5 530.5h-1.1M746.5 529.9h1.1M748.5 530.7V536.5M748.5 532.5h-1.1M748.5 532.1h1.1M749.5 527.1V535.2M749.5 532.4h-1.1M749.5 529.4h1.1M751.5 529.8V533.6M751.5 530.9h-1.1M751.5 532.8h1.1M752.5 528.7V537.4M752.5 530.9h-1.1M752.5 532.8h1.1M754.5 532.2V537.3M754.5 535.9h-1.1M754.5 535.2h1.1M756.5 531.4V538.0M756.5 536.2h-1.1M756.5 534.6h1.1M757.5 531.6V538.9M757.5 533.8h-1.1M757.5 533.0h1.1M759.5 533.6V541.2M759.5 535.5h-1.1M759.5 539.4h1.1M760.5 535.4V540.8M760.5 536.8h-1.1M760.5 537.3h1.1M762.5 534.7V542.2M762.5 536.7h-1.1M762.5 538.4h1.1M763.5 537.2V542.3M763.5 538.3h-1.1M763.5 541.4h1.1M765.5 537.5V541.4M765.5 539.9h-1.1M765.5 538.7h1.1M766.5 535.2V541.9M766.5 537.4h-1.1M766.5 537.2h1.1M768.5 538.9V545.6M768.5 544.6h-1.1M768.5 544.3h1.1M769.5 539.7V545.3M769.5 544.1h-1.1M769.5 540.8h1.1M771.5 540.5V549.0M771.5 547.6h-1.1M771.5 541.9h1.1M772.5 542.5V551.1M772.5 544.7h-1.1M772.5 543.8h1.1M774.5 544.8V552.9M774.5 547.1h-1.1M774.5 548.5h1.1M775.5 544.4V552.3M775.5 548.8h-1.1M775.5 546.4h1.1M777.5 546.3V551.8M777.5 549.9h-1.1M777.5 547.9h1.1M778.5 541.8V548.4M778.5 545.6h-1.1M778.5 545.1h1.1M780.5 535.1V545.8M780.5 541.3h-1.1M780.5 542.0h1.1M781.5 524.3V538.0M781.5 528.3h-1.1M781.5 527.0h1.1M783.5 519.1V530.1M783.5 526.3h-1.1M783.5 521.2h1.1M784.5 515.2V524.9M784.5 522.4h-1.1M784.5 522.5h1.1M786.5 514.4V520.6M786.5 519.3h-1.1M786.5 517.4h1.1M787.5 516.1V525.6M787.5 518.8h-1.1M787.5 523.1h1.1M789.5 519.4V526.3M789.5 522.3h-1.1M789.5 523.3h1.1M790.5 523.3V528.3M790.5 525.6h-1.1M790.5 525.8h1.1M792.5 525.5V531.0M792.5 529.4h-1.1M792.5 529.6h1.1M794.5 527.0V532.8M794.5 529.4h-1.1M794.5 530.9h1.1M795.5 528.1V533.5M795.5 532.5h-1.1M795.5 530.8h1.1M797.5 520.4V530.2M797.5 525.6h-1.1M797.5 522.0h1.1M798.5 513.5V524.8M798.5 516.6h-1.1M798.5 516.0h1.1M800.5 514.5V520.8M800.5 515.5h-1.1M800.5 515.8h1.1M801.5 511.4V518.3M801.5 512.5h-1.1M801.5 515.3h1.1M803.5 513.3V521.1M803.5 518.3h-1.1M803.5 515.0h1.1M804.5 515.3V525.8M804.5 517.2h-1.1M804.5 517.8h1.1M806.5 519.6V529.5M806.5 523.0h-1.1M806.5 521.9h1.1M807.5 526.6V532.2M807.5 529.7h-1.1M807.5 530.8h1.1M809.5 521.3V529.3M809.5 526.7h-1.1M809.5 523.4h1.1M810.5 517.1V526.5M810.5 521.0h-1.1M810.5 521.3h1.1M812.5 516.2V523.7M812.5 519.4h-1.1M812.5 522.2h1.1M813.5 516.0V524.0M813.5 518.5h-1.1M813.5 519.1h1.1M815.5 520.1V526.7M815.5 524.8h-1.1M815.5 525.3h1.1M816.5 520.2V528.0M816.5 521.7h-1.1M816.5 524.2h1.1M818.5 520.6V528.8M818.5 523.3h-1.1M818.5 524.3h1.1M819.5 520.3V526.9M819.5 523.8h-1.1M819.5 521.6h1.1M821.5 521.3V526.8M821.5 522.2h-1.1M821.5 522.6h1.1M822.5 520.7V528.7M822.5 527.2h-1.1M822.5 525.5h1.1M824.5 521.4V528.8M824.5 527.1h-1.1M824.5 522.7h1.1M825.5 520.5V527.1M825.5 524.6h-1.1M825.5 522.7h1.1M827.5 522.7V528.9M827.5 526.3h-1.1M827.5 524.7h1.1M828.5 521.8V528.0M828.5 526.9h-1.1M828.5 524.0h1.1M830.5 523.3V528.6M830.5 524.5h-1.1M830.5 526.3h1.1M832.5 522.0V530.1M832.5 524.7h-1.1M832.5 525.8h1.1M833.5 521.0V527.6M833.5 522.5h-1.1M833.5 522.6h1.1M835.5 521.2V527.1M835.5 523.3h-1.1M835.5 523.1h1.1M836.5 519.5V525.5M836.5 523.9h-1.1M836.5 523.0h1.1M838.5 514.7V524.4M838.5 517.5h-1.1M838.5 520.9h1.1M839.5 508.6V518.5M839.5 514.3h-1.1M839.5 513.3h1.1M841.5 503.6V511.5M841.5 506.0h-1.1M841.5 507.6h1.1M842.5 503.2V509.3M842.5 504.1h-1.1M842.5 505.6h1.1M844.5 501.5V509.1M844.5 505.6h-1.1M844.5 505.3h1.1M845.5 504.7V510.5M845.5 506.7h-1.1M845.5 508.7h1.1M847.5 504.4V510.5M847.5 509.0h-1.1M847.5 507.2h1.1M848.5 507.7V513.6M848.5 510.4h-1.1M848.5 511.7h1.1M850.5 510.3V516.3M850.5 515.2h-1.1M850.5 514.3h1.1M851.5 513.2V517.8M851.5 515.1h-1.1M851.5 516.1h1.1M853.5 509.4V518.4M853.5 515.9h-1.1M853.5 514.0h1.1M854.5 504.8V514.9M854.5 511.7h-1.1M854.5 509.7h1.1M856.5 500.2V510.8M856.5 508.6h-1.1M856.5 502.8h1.1M857.5 493.7V504.6M857.5 501.1h-1.1M857.5 499.8h1.1M859.5 493.4V502.2M859.5 498.2h-1.1M859.5 497.3h1.1M860.5 490.1V497.3M860.5 494.3h-1.1M860.5 493.1h1.1M862.5 492.2V501.1M862.5 498.0h-1.1M862.5 495.4h1.1M863.5 497.0V505.5M863.5 500.6h-1.1M863.5 500.2h1.1M865.5 501.4V510.2M865.5 505.8h-1.1M865.5 505.5h1.1M866.5 501.1V508.1M866.5 502.8h-1.1M866.5 505.0h1.1M868.5 491.5V502.6M868.5 500.3h-1.1M868.5 495.7h1.1M870.5 487.8V498.9M870.5 496.9h-1.1M870.5 491.0h1.1M871.5 487.0V492.7M871.5 487.9h-1.1M871.5 488.1h1.1M873.5 487.2V499.2M873.5 496.8h-1.1M873.5 495.5h1.1M874.5 500.5V509.4M874.5 505.0h-1.1M874.5 505.0h1.1M876.5 493.4V507.1M876.5 498.9h-1.1M876.5 501.2h1.1M877.5 480.0V494.2M877.5 488.9h-1.1M877.5 487.4h1.1M879.5 473.6V480.8M879.5 476.7h-1.1M879.5 477.5h1.1M880.5 475.0V482.0M880.5 480.8h-1.1M880.5 478.4h1.1M882.5 475.9V484.2M882.5 482.9h-1.1M882.5 479.1h1.1M883.5 481.2V489.8M883.5 483.5h-1.1M883.5 484.4h1.1M885.5 482.6V491.9M885.5 487.4h-1.1M885.5 484.7h1.1M886.5 483.9V492.9M886.5 490.5h-1.1M886.5 491.5h1.1M888.5 485.1V494.2M888.5 487.5h-1.1M888.5 488.3h1.1M889.5 488.2V495.4M889.5 490.2h-1.1M889.5 490.2h1.1M891.5 489.8V497.4M891.5 492.8h-1.1M891.5 496.2h1.1M892.5 490.0V497.2M892.5 493.1h-1.1M892.5 495.0h1.1M894.5 488.0V495.6M894.5 489.2h-1.1M894.5 490.8h1.1M895.5 484.5V492.1M895.5 489.2h-1.1M895.5 486.7h1.1M897.5 487.1V494.8M897.5 489.7h-1.1M897.5 491.7h1.1M898.5 490.8V497.8M898.5 494.6h-1.1M898.5 493.9h1.1M900.5 483.0V491.8M900.5 489.0h-1.1M900.5 485.0h1.1M901.5 475.7V484.3M901.5 480.1h-1.1M901.5 481.9h1.1M903.5 473.0V481.6M903.5 474.7h-1.1M903.5 474.4h1.1M904.5 470.9V478.2M904.5 475.6h-1.1M904.5 473.8h1.1M906.5 473.1V479.7M906.5 474.5h-1.1M906.5 478.2h1.1M908.5 476.7V484.1M908.5 480.1h-1.1M908.5 479.8h1.1M909.5 478.6V483.4M909.5 481.3h-1.1M909.5 482.5h1.1M911.5 475.3V481.6M911.5 477.4h-1.1M911.5 476.4h1.1M912.5 477.7V488.1M912.5 481.5h-1.1M912.5 485.8h1.1M914.5 480.3V487.7M914.5 484.6h-1.1M914.5 486.4h1.1M915.5 479.7V487.2M915.5 482.1h-1.1M915.5 482.9h1.1M917.5 475.7V483.5M917.5 478.6h-1.1M917.5 481.7h1.1M918.5 477.3V483.4M918.5 479.2h-1.1M918.5 478.9h1.1M920.5 475.7V481.4M920.5 480.4h-1.1M920.5 477.7h1.1M921.5 476.5V483.3M921.5 480.1h-1.1M921.5 479.3h1.1M923.5 476.8V483.3M923.5 478.3h-1.1M923.5 481.5h1.1M924.5 473.9V481.0M924.5 475.9h-1.1M924.5 476.4h1.1M926.5 472.4V477.5M926.5 475.6h-1.1M926.5 474.4h1.1M927.5 475.0V479.7M927.5 476.0h-1.1M927.5 476.6h1.1M929.5 472.5V480.4M929.5 476.1h-1.1M929.5 478.3h1.1M930.5 473.3V481.0M930.5 476.3h-1.1M930.5 478.3h1.1M932.5 477.1V482.6M932.5 478.7h-1.1M932.5 481.5h1.1M933.5 474.8V481.0M933.5 477.7h-1.1M933.5 476.3h1.1M935.5 471.2V482.7M935.5 480.2h-1.1M935.5 477.7h1.1M936.5 459.3V472.4M936.5 466.9h-1.1M936.5 463.2h1.1M938.5 450.2V463.1M938.5 456.8h-1.1M938.5 457.0h1.1M939.5 449.7V457.9M939.5 453.1h-1.1M939.5 454.7h1.1M941.5 442.2V454.2M941.5 447.3h-1.1M941.5 444.7h1.1M942.5 443.1V450.1M942.5 445.7h-1.1M942.5 447.4h1.1M944.5 443.5V451.3M944.5 446.6h-1.1M944.5 447.4h1.1M946.5 444.7V453.0M946.5 447.8h-1.1M946.5 447.3h1.1M947.5 448.0V454.1M947.5 450.2h-1.1M947.5 450.7h1.1M949.5 445.4V456.7M949.5 454.1h-1.1M949.5 453.9h1.1M950.5 445.9V452.1M950.5 447.0h-1.1M950.5 449.8h1.1M952.5 445.1V455.3M952.5 449.5h-1.1M952.5 451.3h1.1M953.5 444.9V456.4M953.5 453.5h-1.1M953.5 449.5h1.1M955.5 448.1V460.0M955.5 450.9h-1.1M955.5 457.5h1.1M956.5 452.9V465.3M956.5 455.1h-1.1M956.5 455.1h1.1M958.5 456.0V464.8M958.5 459.2h-1.1M958.5 459.7h1.1M959.5 461.4V467.8M959.5 465.2h-1.1M959.5 463.1h1.1M961.5 451.0V466.8M961.5 461.3h-1.1M961.5 456.2h1.1M962.5 447.5V459.0M962.5 452.0h-1.1M962.5 449.2h1.1M964.5 444.0V457.2M964.5 448.6h-1.1M964.5 446.4h1.1M965.5 439.7V453.5M965.5 442.2h-1.1M965.5 444.1h1.1M967.5 438.8V447.3M967.5 441.3h-1.1M967.5 445.5h1.1M968.5 431.7V443.5M968.5 439.2h-1.1M968.5 436.7h1.1M970.5 433.5V444.3M970.5 437.2h-1.1M970.5 435.8h1.1M971.5 431.2V442.6M971.5 440.4h-1.1M971.5 438.5h1.1M973.5 433.8V444.0M973.5 439.8h-1.1M973.5 438.6h1.1M974.5 435.1V441.7M974.5 438.0h-1.1M974.5 438.4h1.1M976.5 425.5V440.9M976.5 436.0h-1.1M976.5 428.3h1.1M977.5 420.0V436.1M977.5 425.3h-1.1M977.5 428.6h1.1M979.5 411.2V427.2M979.5 419.7h-1.1M979.5 416.4h1.1M980.5 410.8V419.0M980.5 414.4h-1.1M980.5 413.1h1.1M982.5 405.3V415.3M982.5 411.8h-1.1M982.5 411.5h1.1M984.5 401.9V412.0M984.5 407.1h-1.1M984.5 406.6h1.1M985.5 394.8V410.2M985.5 400.3h-1.1M985.5 406.6h1.1M987.5 392.0V403.9M987.5 396.6h-1.1M987.5 400.6h1.1M988.5 382.4V396.0M988.5 386.1h-1.1M988.5 390.8h1.1M990.5 380.5V390.4M990.5 387.3h-1.1M990.5 387.8h1.1M991.5 381.5V388.7M991.5 384.4h-1.1M991.5 383.6h1.1M993.5 385.0V391.6M993.5 386.9h-1.1M993.5 389.2h1.1M994.5 381.8V392.4M994.5 385.8h-1.1M994.5 386.9h1.1M996.5 374.6V388.1M996.5 377.3h-1.1M996.5 376.8h1.1M997.5 365.8V383.1M997.5 369.4h-1.1M997.5 377.1h1.1M999.5 362.2V375.7M999.5 365.2h-1.1M999.5 368.8h1.1M1000.5 363.0V372.0M1000.5 367.8h-1.1M1000.5 364.4h1.1M1002.5 365.2V378.6M1002.5 373.1h-1.1M1002.5 376.0h1.1M1003.5 367.5V378.7M1003.5 371.1h-1.1M1003.5 370.2h1.1M1005.5 362.5V373.0M1005.5 370.3h-1.1M1005.5 366.3h1.1M1006.5 356.9V365.8M1006.5 363.5h-1.1M1006.5 364.0h1.1M1008.5 357.2V364.9M1008.5 362.9h-1.1M1008.5 362.4h1.1M1009.5 349.6V361.5M1009.5 358.2h-1.1M1009.5 354.0h1.1M1011.5 341.6V355.2M1011.5 347.2h-1.1M1011.5 351.6h1.1M1012.5 335.4V343.3M1012.5 339.7h-1.1M1012.5 340.0h1.1M1014.5 338.8V352.9M1014.5 349.8h-1.1M1014.5 350.2h1.1M1015.5 343.7V355.9M1015.5 346.9h-1.1M1015.5 348.1h1.1M1017.5 346.6V359.3M1017.5 354.7h-1.1M1017.5 350.0h1.1M1018.5 357.0V365.2M1018.5 358.8h-1.1M1018.5 358.5h1.1M1020.5 347.8V359.7M1020.5 355.6h-1.1M1020.5 349.6h1.1M1022.5 343.1V358.7M1022.5 354.0h-1.1M1022.5 350.1h1.1M1023.5 338.0V348.5M1023.5 343.4h-1.1M1023.5 342.7h1.1M1025.5 336.3V344.4M1025.5 341.3h-1.1M1025.5 342.2h1.1M1026.5 333.3V345.3M1026.5 337.6h-1.1M1026.5 338.9h1.1M1028.5 336.8V347.8M1028.5 340.0h-1.1M1028.5 339.1h1.1M1029.5 340.9V350.9M1029.5 349.2h-1.1M1029.5 348.7h1.1M1031.5 344.6V358.4M1031.5 355.9h-1.1M1031.5 352.7h1.1M1032.5 345.8V357.6M1032.5 353.1h-1.1M1032.5 352.6h1.1M1034.5 349.3V356.9M1034.5 355.5h-1.1M1034.5 353.0h1.1M1035.5 346.3V356.0M1035.5 350.1h-1.1M1035.5 353.8h1.1M1037.5 347.7V353.7M1037.5 351.5h-1.1M1037.5 350.5h1.1M1038.5 349.5V359.4M1038.5 353.6h-1.1M1038.5 355.0h1.1M1040.5 356.3V369.2M1040.5 363.3h-1.1M1040.5 361.8h1.1M1041.5 361.8V368.8M1041.5 367.2h-1.1M1041.5 365.5h1.1M1043.5 363.9V370.2M1043.5 366.0h-1.1M1043.5 365.3h1.1M1044.5 359.7V368.9M1044.5 364.2h-1.1M1044.5 364.7h1.1M1046.5 363.3V371.3M1046.5 365.1h-1.1M1046.5 367.4h1.1M1047.5 362.3V371.9M1047.5 366.5h-1.1M1047.5 364.2h1.1M1049.5 365.9V374.3M1049.5 370.4h-1.1M1049.5 371.3h1.1M1050.5 360.0V372.5M1050.5 370.5h-1.1M1050.5 368.2h1.1M1052.5 359.1V368.7M1052.5 363.2h-1.1M1052.5 361.7h1.1M1053.5 351.0V365.7M1053.5 361.2h-1.1M1053.5 354.6h1.1M1055.5 346.7V359.1M1055.5 350.6h-1.1M1055.5 351.8h1.1M1056.5 350.2V356.1M1056.5 352.0h-1.1M1056.5 352.3h1.1M1058.5 349.8V362.3M1058.5 359.4h-1.1M1058.5 357.1h1.1M1060.5 353.1V366.4M1060.5 363.6h-1.1M1060.5 363.2h1.1M1061.5 359.2V367.6M1061.5 362.5h-1.1M1061.5 365.0h1.1M1063.5 360.5V372.2M1063.5 363.3h-1.1M1063.5 365.3h1.1M1064.5 364.1V374.6M1064.5 371.0h-1.1M1064.5 366.0h1.1M1066.5 359.5V370.5M1066.5 365.4h-1.1M1066.5 367.4h1.1M1067.5 359.9V369.0M1067.5 365.6h-1.1M1067.5 362.9h1.1M1069.5 352.6V363.2M1069.5 360.4h-1.1M1069.5 358.5h1.1M1070.5 346.2V354.4M1070.5 348.1h-1.1M1070.5 352.0h1.1M1072.5 348.4V355.9M1072.5 351.1h-1.1M1072.5 353.1h1.1M1073.5 349.4V357.9M1073.5 355.9h-1.1M1073.5 353.9h1.1M1075.5 350.3V360.8M1075.5 358.9h-1.1M1075.5 352.0h1.1M1076.5 347.6V355.6M1076.5 351.6h-1.1M1076.5 353.7h1.1M1078.5 345.3V356.9M1078.5 348.5h-1.1M1078.5 353.6h1.1M1079.5 349.4V361.5M1079.5 355.2h-1.1M1079.5 352.5h1.1M1081.5 352.1V365.7M1081.5 362.4h-1.1M1081.5 359.9h1.1M1082.5 358.2V366.8M1082.5 360.8h-1.1M1082.5 364.9h1.1M1084.5 360.2V370.0M1084.5 362.9h-1.1M1084.5 364.2h1.1M1085.5 360.8V370.3M1085.5 364.8h-1.1M1085.5 364.6h1.1M1087.5 360.9V367.0M1087.5 363.2h-1.1M1087.5 361.9h1.1M1088.5 359.9V368.8M1088.5 361.5h-1.1M1088.5 362.2h1.1M1090.5 355.8V365.9M1090.5 359.3h-1.1M1090.5 360.9h1.1M1091.5 357.7V365.3M1091.5 361.7h-1.1M1091.5 364.0h1.1M1093.5 355.2V369.0M1093.5 362.7h-1.1M1093.5 364.7h1.1M1094.5 360.8V374.3M1094.5 368.8h-1.1M1094.5 368.8h1.1M1096.5 364.4V375.2M1096.5 372.0h-1.1M1096.5 372.6h1.1M1098.5 368.1V383.1M1098.5 373.5h-1.1M1098.5 378.4h1.1M1099.5 372.9V387.0M1099.5 381.3h-1.1M1099.5 378.5h1.1M1101.5 379.7V389.9M1101.5 381.6h-1.1M1101.5 383.6h1.1M1102.5 381.0V389.8M1102.5 385.3h-1.1M1102.5 384.6h1.1M1104.5 375.8V384.8M1104.5 379.4h-1.1M1104.5 378.0h1.1M1105.5 374.5V383.4M1105.5 378.7h-1.1M1105.5 378.6h1.1M1107.5 366.4V375.4M1107.5 368.8h-1.1M1107.5 368.2h1.1M1108.5 370.3V382.9M1108.5 378.6h-1.1M1108.5 377.1h1.1M1110.5 377.9V391.8M1110.5 389.0h-1.1M1110.5 385.7h1.1M1111.5 379.2V386.1M1111.5 383.0h-1.1M1111.5 385.0h1.1M1113.5 378.8V387.5M1113.5 382.7h-1.1M1113.5 385.4h1.1M1114.5 377.0V383.8M1114.5 382.3h-1.1M1114.5 379.3h1.1M1116.5 373.3V380.7M1116.5 375.3h-1.1M1116.5 375.8h1.1M1117.5 372.6V383.3M1117.5 377.2h-1.1M1117.5 375.7h1.1M1119.5 377.0V387.8M1119.5 383.5h-1.1M1119.5 380.1h1.1M1120.5 379.2V391.0M1120.5 386.0h-1.1M1120.5 381.7h1.1M1122.5 380.8V393.2M1122.5 385.6h-1.1M1122.5 383.9h1.1M1123.5 383.4V393.1M1123.5 390.8h-1.1M1123.5 389.2h1.1M1125.5 384.8V401.0M1125.5 390.9h-1.1M1125.5 395.7h1.1M1126.5 392.3V408.8M1126.5 402.6h-1.1M1126.5 398.7h1.1M1128.5 407.0V415.9M1128.5 408.6h-1.1M1128.5 412.2h1.1M1129.5 405.2V414.2M1129.5 410.3h-1.1M1129.5 408.2h1.1M1131.5 400.4V410.8M1131.5 408.7h-1.1M1131.5 406.1h1.1M1132.5 395.3V409.6M1132.5 403.6h-1.1M1132.5 404.7h1.1M1134.5 395.4V403.2M1134.5 397.4h-1.1M1134.5 397.3h1.1M1136.5 396.9V411.1M1136.5 407.1h-1.1M1136.5 403.3h1.1M1137.5 403.9V418.5M1137.5 411.8h-1.1M1137.5 412.8h1.1M1139.5 411.4V428.6M1139.5 422.9h-1.1M1139.5 417.1h1.1M1140.5 425.8V438.9M1140.5 434.9h-1.1M1140.5 430.6h1.1M1142.5 423.5V437.8M1142.5 430.1h-1.1M1142.5 428.4h1.1M1143.5 416.7V429.0M1143.5 419.7h-1.1M1143.5 418.6h1.1M1145.5 415.4V424.4M1145.5 421.6h-1.1M1145.5 419.0h1.1M1146.5 412.2V424.3M1146.5 420.4h-1.1M1146.5 414.8h1.1M1148.5 415.8V422.0M1148.5 417.0h-1.1M1148.5 418.9h1.1M1149.5 415.6V425.5M1149.5 423.6h-1.1M1149.5 419.6h1.1M1151.5 418.4V425.5M1151.5 423.1h-1.1M1151.5 424.0h1.1M1152.5 418.7V426.4M1152.5 424.0h-1.1M1152.5 421.1h1.1M1154.5 419.6V434.7M1154.5 428.6h-1.1M1154.5 425.5h1.1M1155.5 426.0V439.8M1155.5 431.2h-1.1M1155.5 436.8h1.1M1157.5 433.4V439.8M1157.5 434.7h-1.1M1157.5 437.3h1.1M1158.5 430.9V441.2M1158.5 432.9h-1.1M1158.5 436.5h1.1M1160.5 424.3V437.4M1160.5 435.0h-1.1M1160.5 432.0h1.1M1161.5 414.2V426.2M1161.5 418.2h-1.1M1161.5 419.6h1.1M1163.5 408.8V419.7M1163.5 416.2h-1.1M1163.5 415.3h1.1M1164.5 407.2V417.2M1164.5 410.2h-1.1M1164.5 412.7h1.1M1166.5 405.7V413.2M1166.5 411.4h-1.1M1166.5 408.2h1.1M1167.5 401.7V414.6M1167.5 406.2h-1.1M1167.5 406.7h1.1M1169.5 409.6V423.6M1169.5 413.3h-1.1M1169.5 418.4h1.1M1170.5 415.3V426.8M1170.5 421.7h-1.1M1170.5 424.1h1.1M1172.5 419.4V425.9M1172.5 422.0h-1.1M1172.5 423.9h1.1M1174.5 414.6V425.4M1174.5 422.8h-1.1M1174.5 423.8h1.1M1175.5 415.9V422.9M1175.5 417.5h-1.1M1175.5 421.7h1.1M1177.5 419.8V425.7M1177.5 421.3h-1.1M1177.5 423.7h1.1M1178.5 413.7V422.2M1178.5 419.1h-1.1M1178.5 415.5h1.1M1180.5 410.0V421.4M1180.5 417.4h-1.1M1180.5 418.7h1.1M1181.5 400.5V413.9M1181.5 404.7h-1.1M1181.5 409.9h1.1M1183.5 402.5V413.3M1183.5 408.0h-1.1M1183.5 405.9h1.1M1184.5 405.6V414.9M1184.5 407.1h-1.1M1184.5 413.5h1.1M1186.5 410.6V419.0M1186.5 412.5h-1.1M1186.5 414.7h1.1M1187.5 411.3V418.0M1187.5 413.1h-1.1M1187.5 415.5h1.1M1189.5 412.9V419.2M1189.5 416.1h-1.1M1189.5 414.4h1.1M1190.5 410.1V418.6M1190.5 416.8h-1.1M1190.5 413.5h1.1M1192.5 409.2V419.3M1192.5 416.9h-1.1M1192.5 415.9h1.1M1193.5 399.6V408.7M1193.5 402.6h-1.1M1193.5 401.4h1.1M1195.5 403.3V410.5M1195.5 406.4h-1.1M1195.5 407.2h1.1M1196.5 403.6V412.4M1196.5 409.1h-1.1M1196.5 408.9h1.1M1198.5 405.8V414.6M1198.5 411.4h-1.1M1198.5 413.2h1.1M1199.5 405.0V417.3M1199.5 410.3h-1.1M1199.5 409.6h1.1M1201.5 410.4V419.9M1201.5 414.4h-1.1M1201.5 414.4h1.1M1202.5 408.2V417.6M1202.5 416.2h-1.1M1202.5 409.6h1.1M1204.5 404.9V416.7M1204.5 408.7h-1.1M1204.5 411.7h1.1M1205.5 402.5V410.6M1205.5 404.8h-1.1M1205.5 404.3h1.1M1207.5 405.8V417.7M1207.5 415.2h-1.1M1207.5 408.0h1.1M1208.5 404.6V415.2M1208.5 411.0h-1.1M1208.5 410.3h1.1M1210.5 404.2V416.7M1210.5 406.0h-1.1M1210.5 412.6h1.1M1212.5 387.3V406.7M1212.5 398.2h-1.1M1212.5 403.7h1.1M1213.5 380.6V394.3M1213.5 389.8h-1.1M1213.5 386.3h1.1M1215.5 370.9V385.9M1215.5 378.7h-1.1M1215.5 379.6h1.1M1216.5 367.5V378.9M1216.5 374.2h-1.1M1216.5 373.5h1.1M1218.5 370.8V378.6M1218.5 373.4h-1.1M1218.5 376.9h1.1M1219.5 372.4V383.3M1219.5 378.0h-1.1M1219.5 377.7h1.1M1221.5 375.3V384.0M1221.5 382.2h-1.1M1221.5 379.8h1.1M1222.5 377.8V387.4M1222.5 384.7h-1.1M1222.5 380.8h1.1M1224.5 374.9V384.4M1224.5 379.3h-1.1M1224.5 380.5h1.1M1225.5 368.5V382.6M1225.5 379.2h-1.1M1225.5 371.1h1.1M1227.5 365.1V376.3M1227.5 373.2h-1.1M1227.5 367.8h1.1M1228.5 359.9V368.2M1228.5 361.7h-1.1M1228.5 363.2h1.1M1230.5 358.6V369.4M1230.5 363.6h-1.1M1230.5 360.9h1.1M1231.5 360.9V371.1M1231.5 367.4h-1.1M1231.5 365.7h1.1M1233.5 365.7V377.2M1233.5 373.5h-1.1M1233.5 368.6h1.1M1234.5 366.3V377.4M1234.5 372.0h-1.1M1234.5 369.8h1.1M1236.5 359.8V371.7M1236.5 364.8h-1.1M1236.5 361.8h1.1M1237.5 356.5V366.5M1237.5 358.4h-1.1M1237.5 359.3h1.1M1239.5 350.0V362.7M1239.5 354.8h-1.1M1239.5 354.1h1.1M1240.5 346.1V359.0M1240.5 353.8h-1.1M1240.5 355.8h1.1M1242.5 347.5V355.0M1242.5 352.7h-1.1M1242.5 351.8h1.1M1243.5 345.2V354.0M1243.5 349.3h-1.1M1243.5 348.8h1.1M1245.5 347.0V360.4M1245.5 352.8h-1.1M1245.5 355.1h1.1M1246.5 352.0V367.9M1246.5 358.7h-1.1M1246.5 360.8h1.1M1248.5 359.7V374.2M1248.5 371.7h-1.1M1248.5 369.1h1.1M1250.5 364.9V373.5M1250.5 368.2h-1.1M1250.5 366.6h1.1M1251.5 359.8V370.3M1251.5 365.3h-1.1M1251.5 365.0h1.1M1253.5 361.9V375.0M1253.5 364.1h-1.1M1253.5 369.3h1.1M1254.5 366.0V374.9M1254.5 372.5h-1.1M1254.5 369.9h1.1M1256.5 366.8V375.1M1256.5 370.6h-1.1M1256.5 370.9h1.1M1257.5 366.0V377.5M1257.5 373.2h-1.1M1257.5 373.7h1.1M1259.5 369.2V381.8M1259.5 377.1h-1.1M1259.5 376.0h1.1M1260.5 377.0V390.8M1260.5 380.2h-1.1M1260.5 381.2h1.1M1262.5 383.0V391.7M1262.5 384.9h-1.1M1262.5 384.9h1.1M1263.5 366.7V383.4M1263.5 369.9h-1.1M1263.5 377.2h1.1M1265.5 363.7V375.8M1265.5 366.0h-1.1M1265.5 371.4h1.1M1266.5 364.3V374.0M1266.5 372.6h-1.1M1266.5 371.3h1.1M1268.5 356.8V370.8M1268.5 362.2h-1.1M1268.5 364.0h1.1M1269.5 359.5V366.0M1269.5 361.7h-1.1M1269.5 361.6h1.1M1271.5 356.3V365.1M1271.5 362.9h-1.1M1271.5 361.1h1.1M1272.5 359.4V370.1M1272.5 361.4h-1.1M1272.5 363.3h1.1M1274.5 363.0V374.0M1274.5 371.3h-1.1M1274.5 366.6h1.1M1275.5 358.3V368.7M1275.5 363.8h-1.1M1275.5 362.6h1.1M1277.5 351.3V363.1M1277.5 357.9h-1.1M1277.5 356.1h1.1M1278.5 347.5V362.7M1278.5 359.6h-1.1M1278.5 355.7h1.1M1280.5 361.5V376.0M1280.5 369.1h-1.1M1280.5 367.8h1.1M1281.5 371.0V386.1M1281.5 376.1h-1.1M1281.5 381.6h1.1M1283.5 380.7V391.5M1283.5 388.4h-1.1M1283.5 386.8h1.1M1284.5 385.3V395.5M1284.5 390.0h-1.1M1284.5 393.1h1.1M1286.5 386.4V394.4M1286.5 391.2h-1.1M1286.5 387.8h1.1M1288.5 387.1V400.2M1288.5 394.5h-1.1M1288.5 390.7h1.1M1289.5 389.7V403.3M1289.5 399.4h-1.1M1289.5 396.5h1.1M1291.5 383.0V397.2M1291.5 388.1h-1.1M1291.5 387.3h1.1M1292.5 376.2V390.4M1292.5 387.4h-1.1M1292.5 380.4h1.1M1294.5 376.0V382.1M1294.5 380.2h-1.1M1294.5 380.9h1.1M1295.5 378.9V389.6M1295.5 382.5h-1.1M1295.5 387.3h1.1M1297.5 380.4V392.3M1297.5 382.7h-1.1M1297.5 388.0h1.1M1298.5 387.2V393.8M1298.5 389.6h-1.1M1298.5 389.3h1.1M1300.5 384.0V396.2M1300.5 390.6h-1.1M1300.5 387.1h1.1M1301.5 385.7V401.1M1301.5 397.1h-1.1M1301.5 389.7h1.1M1303.5 393.7V405.7M1303.5 398.8h-1.1M1303.5 395.7h1.1M1304.5 389.0V401.3M1304.5 392.8h-1.1M1304.5 395.6h1.1M1306.5 383.3V393.4M1306.5 390.0h-1.1M1306.5 387.9h1.1M1307.5 377.5V389.9M1307.5 386.6h-1.1M1307.5 380.4h1.1M1309.5 380.2V394.0M1309.5 391.3h-1.1M1309.5 387.4h1.1M1310.5 377.2V387.6M1310.5 384.2h-1.1M1310.5 382.3h1.1M1312.5 369.1V385.2M1312.5 377.0h-1.1M1312.5 381.3h1.1M1313.5 369.1V380.8M1313.5 371.6h-1.1M1313.5 372.0h1.1M1315.5 372.7V381.6M1315.5 379.3h-1.1M1315.5 375.4h1.1M1316.5 360.4V379.6M1316.5 371.3h-1.1M1316.5 376.3h1.1M1318.5 353.1V369.5M1318.5 363.1h-1.1M1318.5 356.2h1.1M1319.5 344.7V358.5M1319.5 349.1h-1.1M1319.5 353.9h1.1M1321.5 341.0V352.7M1321.5 345.2h-1.1M1321.5 343.3h1.1M1322.5 331.6V345.4M1322.5 339.0h-1.1M1322.5 341.3h1.1M1324.5 329.4V342.7M1324.5 331.7h-1.1M1324.5 336.2h1.1M1326.5 330.1V336.7M1326.5 331.7h-1.1M1326.5 333.8h1.1M1327.5 330.3V341.4M1327.5 337.1h-1.1M1327.5 333.2h1.1M1329.5 337.1V345.6M1329.5 340.3h-1.1M1329.5 343.4h1.1M1330.5 333.1V346.8M1330.5 336.6h-1.1M1330.5 336.0h1.1M1332.5 325.3V343.7M1332.5 334.5h-1.1M1332.5 335.0h1.1M1333.5 319.0V331.5M1333.5 322.3h-1.1M1333.5 325.6h1.1M1335.5 315.7V325.8M1335.5 318.6h-1.1M1335.5 320.0h1.1M1336.5 317.1V328.4M1336.5 320.7h-1.1M1336.5 325.7h1.1M1338.5 326.0V340.2M1338.5 328.2h-1.1M1338.5 337.5h1.1M1339.5 332.1V342.1M1339.5 337.6h-1.1M1339.5 338.4h1.1M1341.5 325.3V336.8M1341.5 328.3h-1.1M1341.5 329.2h1.1M1342.5 321.5V329.2M1342.5 325.4h-1.1M1342.5 324.2h1.1M1344.5 317.5V330.5M1344.5 324.7h-1.1M1344.5 321.6h1.1M1345.5 322.3V333.8M1345.5 329.8h-1.1M1345.5 324.5h1.1M1347.5 324.8V333.7M1347.5 332.3h-1.1M1347.5 326.4h1.1M1348.5 325.5V336.1M1348.5 333.1h-1.1M1348.5 329.6h1.1M1350.5 321.3V335.9M1350.5 332.9h-1.1M1350.5 323.6h1.1M1351.5 312.9V333.0M1351.5 321.6h-1.1M1351.5 317.1h1.1M1353.5 304.2V319.1M1353.5 313.5h-1.1M1353.5 308.0h1.1M1354.5 297.9V308.9M1354.5 301.0h-1.1M1354.5 301.2h1.1M1356.5 301.1V310.9M1356.5 309.4h-1.1M1356.5 308.0h1.1M1357.5 294.7V307.6M1357.5 303.7h-1.1M1357.5 304.9h1.1M1359.5 288.2V303.6M1359.5 292.6h-1.1M1359.5 297.2h1.1M1360.5 285.6V299.8M1360.5 288.6h-1.1M1360.5 294.9h1.1M1362.5 284.0V293.5M1362.5 291.8h-1.1M1362.5 289.9h1.1M1364.5 281.1V293.6M1364.5 290.2h-1.1M1364.5 291.2h1.1M1365.5 281.6V295.8M1365.5 292.0h-1.1M1365.5 291.7h1.1M1367.5 285.2V299.9M1367.5 295.9h-1.1M1367.5 295.4h1.1M1368.5 290.4V305.3M1368.5 302.6h-1.1M1368.5 298.2h1.1M1370.5 290.6V303.7M1370.5 301.4h-1.1M1370.5 299.8h1.1M1371.5 295.7V304.9M1371.5 298.6h-1.1M1371.5 298.4h1.1M1373.5 295.2V307.7M1373.5 301.4h-1.1M1373.5 305.1h1.1M1374.5 300.3V315.5M1374.5 306.8h-1.1M1374.5 310.9h1.1M1376.5 304.6V323.7M1376.5 320.0h-1.1M1376.5 318.5h1.1M1377.5 316.3V330.7M1377.5 325.0h-1.1M1377.5 326.9h1.1M1379.5 322.2V332.8M1379.5 330.0h-1.1M1379.5 329.7h1.1M1380.5 316.3V323.6M1380.5 317.5h-1.1M1380.5 318.0h1.1M1382.5 323.0V338.1M1382.5 331.7h-1.1M1382.5 330.1h1.1M1383.5 319.6V333.4M1383.5 325.1h-1.1M1383.5 329.9h1.1M1385.5 307.2V325.4M1385.5 311.1h-1.1M1385.5 313.4h1.1M1386.5 299.2V317.0M1386.5 310.1h-1.1M1386.5 311.9h1.1M1388.5 294.7V307.8M1388.5 297.0h-1.1M1388.5 304.2h1.1M1389.5 282.9V299.0M1389.5 296.1h-1.1M1389.5 289.4h1.1M1391.5 271.6V287.6M1391.5 280.8h-1.1M1391.5 284.0h1.1M1392.5 263.5V277.2M1392.5 274.7h-1.1M1392.5 270.4h1.1M1394.5 256.2V271.7M1394.5 267.5h-1.1M1394.5 260.3h1.1M1395.5 253.5V269.7M1395.5 257.9h-1.1M1395.5 266.7h1.1M1397.5 254.6V275.1M1397.5 261.3h-1.1M1397.5 262.7h1.1M1398.5 240.4V259.6M1398.5 254.9h-1.1M1398.5 250.2h1.1M1400.5 232.6V252.9M1400.5 248.4h-1.1M1400.5 245.2h1.1M1402.5 225.6V240.9M1402.5 232.7h-1.1M1402.5 238.2h1.1M1403.5 218.3V236.4M1403.5 229.0h-1.1M1403.5 225.8h1.1M1405.5 212.2V231.2M1405.5 227.1h-1.1M1405.5 221.6h1.1M1406.5 213.0V227.3M1406.5 215.7h-1.1M1406.5 223.5h1.1M1408.5 207.8V229.2M1408.5 217.7h-1.1M1408.5 222.3h1.1M1409.5 216.4V241.3M1409.5 233.2h-1.1M1409.5 220.8h1.1M1411.5 221.9V235.6M1411.5 233.1h-1.1M1411.5 232.5h1.1M1412.5 217.5V234.3M1412.5 226.8h-1.1M1412.5 220.5h1.1M1414.5 206.2V228.7M1414.5 219.7h-1.1M1414.5 214.0h1.1M1415.5 186.8V216.3M1415.5 202.4h-1.1M1415.5 199.9h1.1M1417.5 172.6V203.4M1417.5 194.6h-1.1M1417.5 191.8h1.1M1418.5 170.5V190.8M1418.5 183.7h-1.1M1418.5 183.4h1.1M1420.5 158.8V176.4M1420.5 168.5h-1.1M1420.5 171.6h1.1M1421.5 152.7V173.7M1421.5 157.9h-1.1M1421.5 163.4h1.1M1423.5 151.1V171.6M1423.5 164.8h-1.1M1423.5 156.7h1.1M1424.5 156.0V171.3M1424.5 161.5h-1.1M1424.5 162.4h1.1M1426.5 145.9V174.2M1426.5 153.9h-1.1M1426.5 156.3h1.1M1427.5 132.3V158.7M1427.5 142.2h-1.1M1427.5 144.3h1.1M1429.5 132.8V147.0M1429.5 138.9h-1.1M1429.5 138.8h1.1M1430.5 124.5V147.8M1430.5 131.4h-1.1M1430.5 142.8h1.1M1432.5 129.1V144.9M1432.5 138.5h-1.1M1432.5 140.1h1.1M1433.5 129.7V148.1M1433.5 142.2h-1.1M1433.5 138.5h1.1M1435.5 139.4V160.6M1435.5 153.7h-1.1M1435.5 146.7h1.1M1436.5 149.7V166.0M1436.5 158.2h-1.1M1436.5 155.4h1.1M1438.5 144.8V164.5M1438.5 158.4h-1.1M1438.5 148.3h1.1M1440.5 134.9V160.6M1440.5 145.1h-1.1M1440.5 155.7h1.1M1441.5 128.1V146.5M1441.5 131.8h-1.1M1441.5 137.9h1.1M1443.5 121.3V144.2M1443.5 131.4h-1.1M1443.5 137.7h1.1M1444.5 118.9V132.3M1444.5 127.0h-1.1M1444.5 130.0h1.1M1446.5 114.3V135.9M1446.5 129.3h-1.1M1446.5 123.5h1.1M1447.5 101.7V129.6M1447.5 112.6h-1.1M1447.5 113.6h1.1M1449.5 94.3V113.5M1449.5 99.7h-1.1M1449.5 108.9h1.1M1450.5 102.2V123.8M1450.5 115.5h-1.1M1450.5 119.0h1.1M1452.5 111.0V128.2M1452.5 114.4h-1.1M1452.5 118.6h1.1M1453.5 120.8V143.0M1453.5 134.5h-1.1M1453.5 133.1h1.1M1455.5 130.9V147.7M1455.5 136.6h-1.1M1455.5 143.4h1.1M1456.5 129.1V149.6M1456.5 134.4h-1.1M1456.5 141.8h1.1M1458.5 123.7V144.1M1458.5 139.6h-1.1M1458.5 139.6h1.1M1459.5 123.8V142.6M1459.5 135.2h-1.1M1459.5 138.2h1.1M1461.5 125.6V140.7M1461.5 135.3h-1.1M1461.5 134.3h1.1M1462.5 130.1V149.3M1462.5 141.1h-1.1M1462.5 144.1h1.1M1464.5 139.5V155.4M1464.5 144.4h-1.1M1464.5 142.9h1.1M1465.5 145.4V164.7M1465.5 159.1h-1.1M1465.5 153.2h1.1M1467.5 141.8V162.2M1467.5 156.8h-1.1M1467.5 149.5h1.1M1468.5 154.2V166.4M1468.5 157.3h-1.1M1468.5 158.4h1.1M1470.5 156.6V168.3M1470.5 162.9h-1.1M1470.5 165.0h1.1M1471.5 159.7V173.5M1471.5 162.8h-1.1M1471.5 163.9h1.1M1473.5 138.0V163.8M1473.5 147.9h-1.1M1473.5 152.1h1.1M1474.5 134.1V152.3M1474.5 139.5h-1.1M1474.5 147.5h1.1M1476.5 123.7V147.2M1476.5 127.8h-1.1M1476.5 140.1h1.1M1478.5 122.0V136.3M1478.5 128.4h-1.1M1478.5 124.8h1.1M1479.5 113.7V134.9M1479.5 125.5h-1.1M1479.5 122.8h1.1M1481.5 109.0V127.0M1481.5 114.6h-1.1M1481.5 122.7h1.1M1482.5 106.2V128.7M1482.5 124.7h-1.1M1482.5 114.7h1.1M1484.5 98.3V122.6M1484.5 110.1h-1.1M1484.5 104.2h1.1M1485.5 95.7V119.8M1485.5 111.2h-1.1M1485.5 107.0h1.1M1487.5 70.5V102.8M1487.5 84.4h-1.1M1487.5 81.7h1.1M1488.5 46.1V73.7M1488.5 60.2h-1.1M1488.5 58.7h1.1M1490.5 42.3V55.2M1490.5 46.0h-1.1M1490.5 46.6h1.1M1491.5 44.5V67.4M1491.5 63.5h-1.1M1491.5 59.9h1.1M1493.5 53.5V82.5M1493.5 72.5h-1.1M1493.5 72.4h1.1M1494.5 65.2V83.9M1494.5 68.2h-1.1M1494.5 79.3h1.1M1496.5 76.1V101.6M1496.5 84.6h-1.1M1496.5 86.3h1.1M1497.5 88.6V105.8M1497.5 103.1h-1.1M1497.5 94.8h1.1M1499.5 96.3V106.8M1499.5 100.5h-1.1M1499.5 104.5h1.1M1500.5 80.6V106.2M1500.5 86.3h-1.1M1500.5 86.4h1.1M1502.5 83.0V94.0M1502.5 88.3h-1.1M1502.5 92.3h1.1M1503.5 81.7V110.1M1503.5 95.4h-1.1M1503.5 102.3h1.1M1505.5 94.1V117.0M1505.5 106.6h-1.1M1505.5 105.7h1.1M1506.5 111.3V135.9M1506.5 115.4h-1.1M1506.5 130.7h1.1M1508.5 130.5V158.0M1508.5 153.5h-1.1M1508.5 143.0h1.1M1509.5 139.3V160.2M1509.5 154.3h-1.1M1509.5 154.7h1.1M1511.5 118.8V141.5M1511.5 125.6h-1.1M1511.5 131.5h1.1M1512.5 107.0V127.3M1512.5 121.8h-1.1M1512.5 121.2h1.1M1514.5 105.6V121.0M1514.5 117.5h-1.1M1514.5 113.7h1.1M1516.5 114.4V127.9M1516.5 122.3h-1.1M1516.5 124.8h1.1M1517.5 118.8V134.3M1517.5 123.4h-1.1M1517.5 123.8h1.1M1519.5 112.9V133.6M1519.5 117.5h-1.1M1519.5 124.6h1.1M1520.5 116.0V126.8M1520.5 121.0h-1.1M1520.5 122.0h1.1M1522.5 116.0V133.6M1522.5 124.1h-1.1M1522.5 119.5h1.1M1523.5 108.2V128.0M1523.5 117.7h-1.1M1523.5 116.7h1.1M1525.5 110.7V128.3M1525.5 116.3h-1.1M1525.5 121.3h1.1M1526.5 106.5V132.6M1526.5 113.0h-1.1M1526.5 127.1h1.1M1528.5 122.4V152.9M1528.5 132.1h-1.1M1528.5 148.0h1.1M1529.5 146.3V163.2M1529.5 158.2h-1.1M1529.5 158.6h1.1M1531.5 146.5V164.8M1531.5 149.7h-1.1M1531.5 150.4h1.1M1532.5 148.8V174.8M1532.5 153.4h-1.1M1532.5 153.6h1.1M1534.5 161.2V179.0M1534.5 166.6h-1.1M1534.5 172.3h1.1M1535.5 162.7V188.9M1535.5 183.5h-1.1M1535.5 171.4h1.1M1537.5 170.8V187.7M1537.5 182.3h-1.1M1537.5 174.6h1.1M1538.5 179.4V203.8M1538.5 186.3h-1.1M1538.5 196.8h1.1M1540.5 161.7V184.4M1540.5 166.8h-1.1M1540.5 177.6h1.1M1541.5 151.5V176.3M1541.5 155.3h-1.1M1541.5 170.0h1.1M1543.5 153.4V170.3M1543.5 161.9h-1.1M1543.5 163.3h1.1M1544.5 151.5V168.9M1544.5 155.1h-1.1M1544.5 154.8h1.1M1546.5 147.1V163.3M1546.5 154.0h-1.1M1546.5 149.6h1.1M1547.5 146.9V166.2M1547.5 161.0h-1.1M1547.5 160.8h1.1M1549.5 139.9V160.7M1549.5 152.5h-1.1M1549.5 146.0h1.1M1550.5 132.7V149.7M1550.5 146.9h-1.1M1550.5 141.8h1.1M1552.5 135.7V149.6M1552.5 144.9h-1.1M1552.5 146.0h1.1M609.5 438.0V452.0M609.5 448.4h-1.1M609.5 441.1h1.1M610.5 450.0V470.0M610.5 458.1h-1.1M610.5 457.2h1.1M612.5 465.0V484.0M612.5 478.0h-1.1M612.5 469.8h1.1M614.5 468.0V486.0M614.5 478.3h-1.1M614.5 483.0h1.1M615.5 478.0V490.0M615.5 486.3h-1.1M615.5 479.9h1.1M616.5 503.0V572.0M616.5 517.0h-1.1M616.5 518.8h1.1M618.5 492.0V535.0M618.5 519.3h-1.1M618.5 516.5h1.1M620.5 495.0V530.0M620.5 513.0h-1.1M620.5 511.4h1.1M621.5 490.0V530.0M621.5 507.4h-1.1M621.5 513.1h1.1M622.5 472.0V528.0M622.5 505.8h-1.1M622.5 516.3h1.1M624.5 470.0V520.0M624.5 503.1h-1.1M624.5 505.4h1.1M626.5 467.0V519.0M626.5 508.0h-1.1M626.5 505.3h1.1M627.5 440.0V500.0M627.5 479.1h-1.1M627.5 450.3h1.1M628.5 421.0V472.0M628.5 453.0h-1.1M628.5 459.0h1.1M630.5 429.0V483.0M630.5 453.4h-1.1M630.5 470.3h1.1M632.5 470.0V510.0M632.5 481.0h-1.1M632.5 502.4h1.1M633.5 485.0V516.0M633.5 499.2h-1.1M633.5 505.0h1.1M634.5 488.0V510.0M634.5 495.2h-1.1M634.5 495.9h1.1M636.5 490.0V508.0M636.5 497.1h-1.1M636.5 496.8h1.1M638.5 498.0V515.0M638.5 501.7h-1.1M638.5 505.8h1.1M639.5 505.0V525.0M639.5 521.7h-1.1M639.5 517.2h1.1M640.5 517.0V537.0M640.5 533.1h-1.1M640.5 530.7h1.1M642.5 522.0V538.0M642.5 533.8h-1.1M642.5 535.5h1.1M644.5 522.0V540.0M644.5 534.2h-1.1M644.5 528.2h1.1M645.5 528.0V542.0M645.5 532.5h-1.1M645.5 534.1h1.1M646.5 525.0V540.0M646.5 527.5h-1.1M646.5 529.7h1.1M648.5 520.0V532.0M648.5 529.2h-1.1M648.5 529.5h1.1M650.5 504.0V516.0M650.5 508.6h-1.1M650.5 512.3h1.1M651.5 505.0V517.0M651.5 513.3h-1.1M651.5 514.3h1.1M652.5 505.0V516.0M652.5 512.8h-1.1M652.5 510.7h1.1M654.5 506.0V517.0M654.5 508.5h-1.1M654.5 514.0h1.1M656.5 521.0V535.0M656.5 526.2h-1.1M656.5 529.2h1.1M167.5 172.0V197.5M167.5 182.7h-1.1M167.5 185.3h1.1M403.5 360.0V384.0M403.5 378.7h-1.1M403.5 367.1h1.1M434.5 310.0V332.0M434.5 321.4h-1.1M434.5 323.0h1.1M492.5 298.7V318.0M492.5 308.8h-1.1M492.5 313.4h1.1M580.5 366.0V378.0M580.5 371.3h-1.1M580.5 375.0h1.1M712.5 474.0V492.0M712.5 485.0h-1.1M712.5 488.0h1.1M782.5 521.0V535.0M782.5 524.6h-1.1M782.5 525.6h1.1M878.5 471.5V486.0M878.5 476.9h-1.1M878.5 482.3h1.1M943.5 440.0V450.0M943.5 442.1h-1.1M943.5 443.6h1.1M988.5 360.0V392.0M988.5 380.1h-1.1M988.5 385.4h1.1M998.5 363.0V376.0M998.5 367.0h-1.1M998.5 369.0h1.1M1024.5 337.0V350.0M1024.5 345.0h-1.1M1024.5 345.0h1.1M1065.5 360.0V385.6M1065.5 376.6h-1.1M1065.5 376.7h1.1M1140.5 427.0V444.0M1140.5 432.9h-1.1M1140.5 433.0h1.1M1156.5 428.0V444.0M1156.5 431.5h-1.1M1156.5 437.8h1.1M1262.5 378.0V395.0M1262.5 383.5h-1.1M1262.5 384.0h1.1M1288.5 388.0V407.5M1288.5 403.2h-1.1M1288.5 399.4h1.1M1318.5 350.0V366.0M1318.5 358.9h-1.1M1318.5 359.5h1.1M1378.5 318.0V348.0M1378.5 334.8h-1.1M1378.5 336.5h1.1M1382.5 322.0V345.0M1382.5 330.8h-1.1M1382.5 327.5h1.1M1394.5 250.4V272.0M1394.5 255.6h-1.1M1394.5 254.9h1.1M1448.5 90.5V112.0M1448.5 99.5h-1.1M1448.5 96.6h1.1M1490.5 35.5V55.0M1490.5 40.7h-1.1M1490.5 45.2h1.1M1539.5 178.0V201.7M1539.5 196.5h-1.1M1539.5 192.5h1.1" stroke="#080808" stroke-width="0.92" fill="none"/>
<rect x="16.5" y="28.5" width="1539.5" height="550.0" fill="none" stroke="#bdbdbd" stroke-width="1.2"/>
<text class="ax" x="1560" y="574.5" font-size="10.2" fill="#111">4</text>
<text class="ax" x="1560" y="557.1" font-size="10.2" fill="#111">5</text>
<text class="ax" x="1560" y="539.7" font-size="10.2" fill="#111">6</text>
<text class="ax" x="1560" y="522.4" font-size="10.2" fill="#111">7</text>
<text class="ax" x="1560" y="505.0" font-size="10.2" fill="#111">8</text>
<text class="ax" x="1560" y="487.6" font-size="10.2" fill="#111">9</text>
<text class="ax" x="1560" y="470.2" font-size="10.2" fill="#111">10</text>
<text class="ax" x="1560" y="452.9" font-size="10.2" fill="#111">11</text>
<text class="ax" x="1560" y="435.5" font-size="10.2" fill="#111">12</text>
<text class="ax" x="1560" y="418.1" font-size="10.2" fill="#111">13</text>
<text class="ax" x="1560" y="400.8" font-size="10.2" fill="#111">14</text>
<text class="ax" x="1560" y="383.4" font-size="10.2" fill="#111">15</text>
<text class="ax" x="1560" y="366.0" font-size="10.2" fill="#111">16</text>
<text class="ax" x="1560" y="348.7" font-size="10.2" fill="#111">17</text>
<text class="ax" x="1560" y="331.3" font-size="10.2" fill="#111">18</text>
<text class="ax" x="1560" y="313.9" font-size="10.2" fill="#111">19</text>
<text class="ax" x="1560" y="296.6" font-size="10.2" fill="#111">20</text>
<text class="ax" x="1560" y="279.2" font-size="10.2" fill="#111">21</text>
<text class="ax" x="1560" y="261.8" font-size="10.2" fill="#111">22</text>
<text class="ax" x="1560" y="244.4" font-size="10.2" fill="#111">23</text>
<text class="ax" x="1560" y="227.1" font-size="10.2" fill="#111">24</text>
<text class="ax" x="1560" y="209.7" font-size="10.2" fill="#111">25</text>
<text class="ax" x="1560" y="192.3" font-size="10.2" fill="#111">26</text>
<text class="ax" x="1560" y="175.0" font-size="10.2" fill="#111">27</text>
<text class="ax" x="1560" y="157.6" font-size="10.2" fill="#111">28</text>
<text class="ax" x="1560" y="140.2" font-size="10.2" fill="#111">29</text>
<text class="ax" x="1560" y="122.9" font-size="10.2" fill="#111">30</text>
<text class="ax" x="1560" y="105.5" font-size="10.2" fill="#111">31</text>
<text class="ax" x="1560" y="88.1" font-size="10.2" fill="#111">32</text>
<text class="ax" x="1560" y="70.7" font-size="10.2" fill="#111">33</text>
<text class="ax" x="1560" y="53.4" font-size="10.2" fill="#111">34</text>
<text class="ax" x="1560" y="36.0" font-size="10.2" fill="#111">35</text>
<path d="M1554.8 242.6l4.6 -4.9H1588v9.8H1559.4z" fill="#fff" stroke="#a03058" stroke-width="1.2" stroke-linejoin="miter"/>
<text x="1560" y="246.1" font-size="10.1" fill="#111" letter-spacing="0.1" class="ax">22.89</text>
<path d="M1554.8 123.8l4.6 -4.9H1588v9.8H1559.4z" fill="#fff" stroke="#1c1c80" stroke-width="1.2" stroke-linejoin="miter"/>
<text x="1560" y="127.3" font-size="10.1" fill="#111" letter-spacing="0.1" class="ax">29.71</text>
<path d="M1554.8 146.3l4.6 -4.9H1588v9.8H1559.4z" fill="#fff" stroke="#000" stroke-width="1.5" stroke-linejoin="miter"/>
<text x="1560" y="149.8" font-size="10.4" fill="#000" font-weight="bold" letter-spacing="0.1" class="ax">28.49</text>
<path d="M17.2 29.2H137.5V41.2H91V53H95.5V63.8H17.2z" fill="#fff"/>
<path d="M20.5 31v6 M19 32.5h1.5 M20.5 35.5h1.1 M23.5 34.2v5.6 M22 38.5h3 M26.5 31v6.6 M25.2 36.5h1.3 M26.5 34.5h1.3" stroke="#000" stroke-width="1.1" fill="none"/>
<text transform="translate(31.8,39.1) scale(1.15,1)" font-size="9.5" fill="#000" letter-spacing="0.53" class="ax">$TNX (Daily) 28.49</text>
<path d="M19 46H27.6" stroke="#000080" stroke-width="2"/>
<text x="29.5" y="49.8" font-size="9.1" fill="#0c0c66" stroke="#0c0c66" stroke-width="0.2" textLength="59.5" lengthAdjust="spacingAndGlyphs">MA(50) 29.71</text>
<path d="M19 56.8H27.6" stroke="#c01038" stroke-width="2"/>
<text x="29.5" y="60.5" font-size="9.1" fill="#9a1038" stroke="#9a1038" stroke-width="0.2" textLength="64.7" lengthAdjust="spacingAndGlyphs">MA(200) 22.89</text>
<text x="16.3" y="13.7" font-size="12.6" font-weight="bold" fill="#000" textLength="33" lengthAdjust="spacingAndGlyphs">$TNX</text>
<text x="52.3" y="13.2" font-size="11" fill="#111" textLength="163.5" lengthAdjust="spacingAndGlyphs">CBOE 10-Year US Treasury Yield</text>
<text x="219.2" y="13.2" font-size="9" fill="#111" textLength="24.5" lengthAdjust="spacingAndGlyphs">INDX</text>
<text x="16.6" y="26" font-size="9.6" fill="#111" textLength="61" lengthAdjust="spacingAndGlyphs">12-Aug-2022</text>
<text x="1556" y="13" font-size="10.6" fill="#6a6a6a" text-anchor="end" textLength="89" lengthAdjust="spacingAndGlyphs">© StockCharts.com</text>
<text x="1202.0" y="25.7" font-size="10.2" fill="#111" textLength="27.7" lengthAdjust="spacingAndGlyphs" font-weight="bold">Open</text>
<text x="1234.0" y="25.7" font-size="10.2" fill="#111" textLength="25.7" lengthAdjust="spacingAndGlyphs">28.48</text>
<text x="1266.4" y="25.7" font-size="10.2" fill="#111" textLength="23.6" lengthAdjust="spacingAndGlyphs" font-weight="bold">High</text>
<text x="1293.8" y="25.7" font-size="10.2" fill="#111" textLength="26.2" lengthAdjust="spacingAndGlyphs">28.79</text>
<text x="1326.6" y="25.7" font-size="10.2" fill="#111" textLength="22.8" lengthAdjust="spacingAndGlyphs" font-weight="bold">Low</text>
<text x="1354.0" y="25.7" font-size="10.2" fill="#111" textLength="25.6" lengthAdjust="spacingAndGlyphs">28.37</text>
<text x="1386.8" y="25.7" font-size="10.2" fill="#111" textLength="30.8" lengthAdjust="spacingAndGlyphs" font-weight="bold">Close</text>
<text x="1422.0" y="25.7" font-size="10.2" fill="#111" textLength="26.0" lengthAdjust="spacingAndGlyphs">28.49</text>
<text x="1454.7" y="25.7" font-size="10.2" fill="#111" textLength="21.0" lengthAdjust="spacingAndGlyphs" font-weight="bold">Chg</text>
<text x="1479.6" y="25.7" font-size="10.2" fill="#111" textLength="23.6" lengthAdjust="spacingAndGlyphs">-0.39</text>
<text x="1507.0" y="25.7" font-size="10.2" fill="#111" textLength="39.7" lengthAdjust="spacingAndGlyphs">(-1.35%)</text>
<path d="M1549.6 20.8h5.6l-2.8 4.2z" fill="#8c1438"/>
<text class="ax" x="40.8" y="588.8" font-size="9.5" fill="#111" text-anchor="middle" letter-spacing="0.55">Sep</text>
<text class="ax" x="69.5" y="588.8" font-size="9.5" fill="#111" text-anchor="middle" letter-spacing="0.55">Oct</text>
<text class="ax" x="104.0" y="588.8" font-size="9.5" fill="#111" text-anchor="middle" letter-spacing="0.55">Nov</text>
<text class="ax" x="137.0" y="588.8" font-size="9.5" fill="#111" text-anchor="middle" letter-spacing="0.55">Dec</text>
<text x="164.7" y="589.0" font-size="11.2" font-weight="bold" fill="#000" text-anchor="middle" textLength="23.3" lengthAdjust="spacingAndGlyphs">2019</text>
<text class="ax" x="197.5" y="588.8" font-size="9.5" fill="#111" text-anchor="middle" letter-spacing="0.55">Feb</text>
<text class="ax" x="226.5" y="588.8" font-size="9.5" fill="#111" text-anchor="middle" letter-spacing="0.55">Mar</text>
<text class="ax" x="259.0" y="588.8" font-size="9.5" fill="#111" text-anchor="middle" letter-spacing="0.55">Apr</text>
<text class="ax" x="290.5" y="588.8" font-size="9.5" fill="#111" text-anchor="middle" letter-spacing="0.55">May</text>
<text class="ax" x="323.0" y="588.8" font-size="9.5" fill="#111" text-anchor="middle" letter-spacing="0.55">Jun</text>
<text class="ax" x="354.0" y="588.8" font-size="9.5" fill="#111" text-anchor="middle" letter-spacing="0.55">Jul</text>
<text class="ax" x="387.5" y="588.8" font-size="9.5" fill="#111" text-anchor="middle" letter-spacing="0.55">Aug</text>
<text class="ax" x="421.5" y="588.8" font-size="9.5" fill="#111" text-anchor="middle" letter-spacing="0.55">Sep</text>
<text class="ax" x="451.5" y="588.8" font-size="9.5" fill="#111" text-anchor="middle" letter-spacing="0.55">Oct</text>
<text class="ax" x="486.5" y="588.8" font-size="9.5" fill="#111" text-anchor="middle" letter-spacing="0.55">Nov</text>
<text class="ax" x="517.5" y="588.8" font-size="9.5" fill="#111" text-anchor="middle" letter-spacing="0.55">Dec</text>
<text x="548.7" y="589.0" font-size="11.2" font-weight="bold" fill="#000" text-anchor="middle" textLength="23.3" lengthAdjust="spacingAndGlyphs">2020</text>
<text class="ax" x="581.7" y="588.8" font-size="9.5" fill="#111" text-anchor="middle" letter-spacing="0.55">Feb</text>
<text class="ax" x="610.5" y="588.8" font-size="9.5" fill="#111" text-anchor="middle" letter-spacing="0.55">Mar</text>
<text class="ax" x="643.5" y="588.8" font-size="9.5" fill="#111" text-anchor="middle" letter-spacing="0.55">Apr</text>
<text class="ax" x="675.5" y="588.8" font-size="9.5" fill="#111" text-anchor="middle" letter-spacing="0.55">May</text>
<text class="ax" x="706.5" y="588.8" font-size="9.5" fill="#111" text-anchor="middle" letter-spacing="0.55">Jun</text>
<text class="ax" x="739.5" y="588.8" font-size="9.5" fill="#111" text-anchor="middle" letter-spacing="0.55">Jul</text>
<text class="ax" x="773.5" y="588.8" font-size="9.5" fill="#111" text-anchor="middle" letter-spacing="0.55">Aug</text>
<text class="ax" x="805.5" y="588.8" font-size="9.5" fill="#111" text-anchor="middle" letter-spacing="0.55">Sep</text>
<text class="ax" x="837.5" y="588.8" font-size="9.5" fill="#111" text-anchor="middle" letter-spacing="0.55">Oct</text>
<text class="ax" x="870.5" y="588.8" font-size="9.5" fill="#111" text-anchor="middle" letter-spacing="0.55">Nov</text>
<text class="ax" x="901.5" y="588.8" font-size="9.5" fill="#111" text-anchor="middle" letter-spacing="0.55">Dec</text>
<text x="933.7" y="589.0" font-size="11.2" font-weight="bold" fill="#000" text-anchor="middle" textLength="23.3" lengthAdjust="spacingAndGlyphs">2021</text>
<text class="ax" x="963.5" y="588.8" font-size="9.5" fill="#111" text-anchor="middle" letter-spacing="0.55">Feb</text>
<text class="ax" x="992.5" y="588.8" font-size="9.5" fill="#111" text-anchor="middle" letter-spacing="0.55">Mar</text>
<text class="ax" x="1027.5" y="588.8" font-size="9.5" fill="#111" text-anchor="middle" letter-spacing="0.55">Apr</text>
<text class="ax" x="1059.5" y="588.8" font-size="9.5" fill="#111" text-anchor="middle" letter-spacing="0.55">May</text>
<text class="ax" x="1090.5" y="588.8" font-size="9.5" fill="#111" text-anchor="middle" letter-spacing="0.55">Jun</text>
<text class="ax" x="1123.5" y="588.8" font-size="9.5" fill="#111" text-anchor="middle" letter-spacing="0.55">Jul</text>
<text class="ax" x="1155.5" y="588.8" font-size="9.5" fill="#111" text-anchor="middle" letter-spacing="0.55">Aug</text>
<text class="ax" x="1189.5" y="588.8" font-size="9.5" fill="#111" text-anchor="middle" letter-spacing="0.55">Sep</text>
<text class="ax" x="1220.5" y="588.8" font-size="9.5" fill="#111" text-anchor="middle" letter-spacing="0.55">Oct</text>
<text class="ax" x="1252.5" y="588.8" font-size="9.5" fill="#111" text-anchor="middle" letter-spacing="0.55">Nov</text>
<text class="ax" x="1284.5" y="588.8" font-size="9.5" fill="#111" text-anchor="middle" letter-spacing="0.55">Dec</text>
<text x="1317.7" y="589.0" font-size="11.2" font-weight="bold" fill="#000" text-anchor="middle" textLength="23.3" lengthAdjust="spacingAndGlyphs">2022</text>
<text class="ax" x="1348.5" y="588.8" font-size="9.5" fill="#111" text-anchor="middle" letter-spacing="0.55">Feb</text>
<text class="ax" x="1377.5" y="588.8" font-size="9.5" fill="#111" text-anchor="middle" letter-spacing="0.55">Mar</text>
<text class="ax" x="1412.5" y="588.8" font-size="9.5" fill="#111" text-anchor="middle" letter-spacing="0.55">Apr</text>
<text class="ax" x="1443.5" y="588.8" font-size="9.5" fill="#111" text-anchor="middle" letter-spacing="0.55">May</text>
<text class="ax" x="1475.5" y="588.8" font-size="9.5" fill="#111" text-anchor="middle" letter-spacing="0.55">Jun</text>
<text class="ax" x="1507.5" y="588.8" font-size="9.5" fill="#111" text-anchor="middle" letter-spacing="0.55">Jul</text>
<text class="ax" x="1537.5" y="588.8" font-size="9.5" fill="#111" text-anchor="middle" letter-spacing="0.55">Aug</text>
<text class="ax" x="40.8" y="795.2" font-size="9.5" fill="#111" text-anchor="middle" letter-spacing="0.55">Sep</text>
<text class="ax" x="69.5" y="795.2" font-size="9.5" fill="#111" text-anchor="middle" letter-spacing="0.55">Oct</text>
<text class="ax" x="104.0" y="795.2" font-size="9.5" fill="#111" text-anchor="middle" letter-spacing="0.55">Nov</text>
<text class="ax" x="137.0" y="795.2" font-size="9.5" fill="#111" text-anchor="middle" letter-spacing="0.55">Dec</text>
<text x="164.7" y="795.4" font-size="11.2" font-weight="bold" fill="#000" text-anchor="middle" textLength="23.3" lengthAdjust="spacingAndGlyphs">2019</text>
<text class="ax" x="197.5" y="795.2" font-size="9.5" fill="#111" text-anchor="middle" letter-spacing="0.55">Feb</text>
<text class="ax" x="226.5" y="795.2" font-size="9.5" fill="#111" text-anchor="middle" letter-spacing="0.55">Mar</text>
<text class="ax" x="259.0" y="795.2" font-size="9.5" fill="#111" text-anchor="middle" letter-spacing="0.55">Apr</text>
<text class="ax" x="290.5" y="795.2" font-size="9.5" fill="#111" text-anchor="middle" letter-spacing="0.55">May</text>
<text class="ax" x="323.0" y="795.2" font-size="9.5" fill="#111" text-anchor="middle" letter-spacing="0.55">Jun</text>
<text class="ax" x="354.0" y="795.2" font-size="9.5" fill="#111" text-anchor="middle" letter-spacing="0.55">Jul</text>
<text class="ax" x="387.5" y="795.2" font-size="9.5" fill="#111" text-anchor="middle" letter-spacing="0.55">Aug</text>
<text class="ax" x="421.5" y="795.2" font-size="9.5" fill="#111" text-anchor="middle" letter-spacing="0.55">Sep</text>
<text class="ax" x="451.5" y="795.2" font-size="9.5" fill="#111" text-anchor="middle" letter-spacing="0.55">Oct</text>
<text class="ax" x="486.5" y="795.2" font-size="9.5" fill="#111" text-anchor="middle" letter-spacing="0.55">Nov</text>
<text class="ax" x="517.5" y="795.2" font-size="9.5" fill="#111" text-anchor="middle" letter-spacing="0.55">Dec</text>
<text x="548.7" y="795.4" font-size="11.2" font-weight="bold" fill="#000" text-anchor="middle" textLength="23.3" lengthAdjust="spacingAndGlyphs">2020</text>
<text class="ax" x="581.7" y="795.2" font-size="9.5" fill="#111" text-anchor="middle" letter-spacing="0.55">Feb</text>
<text class="ax" x="610.5" y="795.2" font-size="9.5" fill="#111" text-anchor="middle" letter-spacing="0.55">Mar</text>
<text class="ax" x="643.5" y="795.2" font-size="9.5" fill="#111" text-anchor="middle" letter-spacing="0.55">Apr</text>
<text class="ax" x="675.5" y="795.2" font-size="9.5" fill="#111" text-anchor="middle" letter-spacing="0.55">May</text>
<text class="ax" x="706.5" y="795.2" font-size="9.5" fill="#111" text-anchor="middle" letter-spacing="0.55">Jun</text>
<text class="ax" x="739.5" y="795.2" font-size="9.5" fill="#111" text-anchor="middle" letter-spacing="0.55">Jul</text>
<text class="ax" x="773.5" y="795.2" font-size="9.5" fill="#111" text-anchor="middle" letter-spacing="0.55">Aug</text>
<text class="ax" x="805.5" y="795.2" font-size="9.5" fill="#111" text-anchor="middle" letter-spacing="0.55">Sep</text>
<text class="ax" x="837.5" y="795.2" font-size="9.5" fill="#111" text-anchor="middle" letter-spacing="0.55">Oct</text>
<text class="ax" x="870.5" y="795.2" font-size="9.5" fill="#111" text-anchor="middle" letter-spacing="0.55">Nov</text>
<text class="ax" x="901.5" y="795.2" font-size="9.5" fill="#111" text-anchor="middle" letter-spacing="0.55">Dec</text>
<text x="933.7" y="795.4" font-size="11.2" font-weight="bold" fill="#000" text-anchor="middle" textLength="23.3" lengthAdjust="spacingAndGlyphs">2021</text>
<text class="ax" x="963.5" y="795.2" font-size="9.5" fill="#111" text-anchor="middle" letter-spacing="0.55">Feb</text>
<text class="ax" x="992.5" y="795.2" font-size="9.5" fill="#111" text-anchor="middle" letter-spacing="0.55">Mar</text>
<text class="ax" x="1027.5" y="795.2" font-size="9.5" fill="#111" text-anchor="middle" letter-spacing="0.55">Apr</text>
<text class="ax" x="1059.5" y="795.2" font-size="9.5" fill="#111" text-anchor="middle" letter-spacing="0.55">May</text>
<text class="ax" x="1090.5" y="795.2" font-size="9.5" fill="#111" text-anchor="middle" letter-spacing="0.55">Jun</text>
<text class="ax" x="1123.5" y="795.2" font-size="9.5" fill="#111" text-anchor="middle" letter-spacing="0.55">Jul</text>
<text class="ax" x="1155.5" y="795.2" font-size="9.5" fill="#111" text-anchor="middle" letter-spacing="0.55">Aug</text>
<text class="ax" x="1189.5" y="795.2" font-size="9.5" fill="#111" text-anchor="middle" letter-spacing="0.55">Sep</text>
<text class="ax" x="1220.5" y="795.2" font-size="9.5" fill="#111" text-anchor="middle" letter-spacing="0.55">Oct</text>
<text class="ax" x="1252.5" y="795.2" font-size="9.5" fill="#111" text-anchor="middle" letter-spacing="0.55">Nov</text>
<text class="ax" x="1284.5" y="795.2" font-size="9.5" fill="#111" text-anchor="middle" letter-spacing="0.55">Dec</text>
<text x="1317.7" y="795.4" font-size="11.2" font-weight="bold" fill="#000" text-anchor="middle" textLength="23.3" lengthAdjust="spacingAndGlyphs">2022</text>
<text class="ax" x="1348.5" y="795.2" font-size="9.5" fill="#111" text-anchor="middle" letter-spacing="0.55">Feb</text>
<text class="ax" x="1377.5" y="795.2" font-size="9.5" fill="#111" text-anchor="middle" letter-spacing="0.55">Mar</text>
<text class="ax" x="1412.5" y="795.2" font-size="9.5" fill="#111" text-anchor="middle" letter-spacing="0.55">Apr</text>
<text class="ax" x="1443.5" y="795.2" font-size="9.5" fill="#111" text-anchor="middle" letter-spacing="0.55">May</text>
<text class="ax" x="1475.5" y="795.2" font-size="9.5" fill="#111" text-anchor="middle" letter-spacing="0.55">Jun</text>
<text class="ax" x="1507.5" y="795.2" font-size="9.5" fill="#111" text-anchor="middle" letter-spacing="0.55">Jul</text>
<text class="ax" x="1537.5" y="795.2" font-size="9.5" fill="#111" text-anchor="middle" letter-spacing="0.55">Aug</text>
<path d="M16.5 782.5H1556.0M16.5 762.5H1556.0M16.5 743.5H1556.0M16.5 724.5H1556.0M16.5 704.5H1556.0M16.5 685.5H1556.0M16.5 666.5H1556.0M16.5 646.5H1556.0M16.5 607.5H1556.0" stroke="#e8e8e8" stroke-width="1" fill="none"/>
<path d="M40.5 592.5V784.5M69.5 592.5V784.5M104.5 592.5V784.5M136.5 592.5V784.5M197.5 592.5V784.5M226.5 592.5V784.5M258.5 592.5V784.5M290.5 592.5V784.5M322.5 592.5V784.5M354.5 592.5V784.5M387.5 592.5V784.5M421.5 592.5V784.5M451.5 592.5V784.5M486.5 592.5V784.5M517.5 592.5V784.5M581.5 592.5V784.5M610.5 592.5V784.5M643.5 592.5V784.5M675.5 592.5V784.5M706.5 592.5V784.5M739.5 592.5V784.5M773.5 592.5V784.5M805.5 592.5V784.5M837.5 592.5V784.5M870.5 592.5V784.5M901.5 592.5V784.5M963.5 592.5V784.5M992.5 592.5V784.5M1027.5 592.5V784.5M1059.5 592.5V784.5M1090.5 592.5V784.5M1123.5 592.5V784.5M1155.5 592.5V784.5M1189.5 592.5V784.5M1220.5 592.5V784.5M1252.5 592.5V784.5M1284.5 592.5V784.5M1348.5 592.5V784.5M1377.5 592.5V784.5M1412.5 592.5V784.5M1443.5 592.5V784.5M1475.5 592.5V784.5M1507.5 592.5V784.5M1537.5 592.5V784.5" stroke="#e0e0e0" stroke-width="1" fill="none"/>
<path d="M165.5 592.5V784.5M549.5 592.5V784.5M934.5 592.5V784.5M1318.5 592.5V784.5" stroke="#b4b4b4" stroke-width="1" fill="none"/>
<path d="M16.5 627.3H1556.0" stroke="#6a6a6a" stroke-width="1.1"/>
<polyline points="16.9,627.2 19.4,625.6 21.2,626.9 23.8,621.2 26.2,619.4 28.8,621.9 31.9,625.6 35.0,628.1 40.0,631.5 42.5,625.6 45.0,625.4 47.5,627.5 50.0,627.5 51.9,630.2 54.4,624.4 55.6,625.6 57.5,623.5 60.6,622.8 62.5,628.1 65.0,629.4 68.1,631.2 71.2,629.8 73.8,622.5 76.9,613.8 78.8,611.9 80.6,605.6 83.1,615.6 84.4,614.4 86.9,620.4 90.6,611.9 93.8,616.0 96.2,613.8 98.8,612.5 101.9,605.6 105.0,614.4 106.2,613.1 108.1,604.5 109.5,603.0 111.2,609.0 113.8,608.1 115.0,603.5 117.0,601.5 118.8,604.0 119.8,610.2 121.6,610.0 122.5,604.0 125.0,606.2 127.5,608.5 130.2,608.1 133.1,613.8 135.6,616.9 136.9,620.4 138.1,618.8 139.4,622.8 141.2,619.8 143.1,626.9 145.6,630.0 147.5,632.5 149.4,628.8 151.2,631.0 153.8,629.0 157.5,624.8 160.6,627.9 163.8,629.0 165.6,623.5 168.1,620.4 171.9,622.8 175.0,622.8 177.5,621.0 179.4,626.9 180.6,622.8 186.2,622.8 191.9,618.5 196.2,623.5 200.0,625.2 203.1,626.0 206.2,629.4 208.8,627.5 211.5,630.0 215.6,624.4 218.5,628.1 220.6,626.5 225.6,632.2 229.4,631.5 232.8,634.4 236.2,632.8 239.4,635.2 243.1,633.5 246.2,640.6 250.6,645.6 253.8,644.4 256.2,645.2 258.1,643.1 260.0,644.4 262.5,639.8 265.6,639.8 268.1,642.5 271.2,639.8 273.8,640.2 276.9,634.4 280.0,637.5 284.4,641.5 287.5,636.9 290.0,636.5 293.1,638.8 296.2,637.5 299.4,640.6 301.2,640.6 303.1,643.1 305.6,642.5 308.8,643.5 311.9,643.8 314.4,645.2 316.9,644.8 319.4,646.9 322.2,651.2 323.8,645.6 325.0,644.8 326.9,648.1 330.6,651.2 333.1,649.0 334.4,650.0 336.9,647.2 340.6,647.8 343.8,650.2 346.9,650.0 353.1,644.0 355.6,646.2 360.6,645.2 364.4,648.5 366.9,646.9 369.4,646.9 371.5,650.2 373.8,647.2 376.2,647.2 378.8,644.8 383.1,646.0 386.2,645.6 387.8,650.6 390.6,650.6 395.0,656.9 400.0,659.8 403.5,665.2 405.6,662.5 408.8,663.1 410.6,662.2 413.8,663.1 415.6,666.2 418.1,664.8 420.0,660.6 425.6,655.0 428.1,640.6 429.4,638.8 433.1,637.5 436.2,641.9 438.1,641.5 440.0,643.1 443.8,641.9 446.2,640.2 447.5,640.6 448.8,638.5 451.9,643.8 454.8,647.2 457.5,646.5 461.2,646.2 465.0,643.1 468.1,641.0 470.6,640.6 473.1,637.5 474.8,633.5 476.5,633.5 477.5,636.9 479.4,634.4 481.9,635.2 483.5,639.4 485.6,639.4 486.9,635.0 490.0,630.2 493.1,628.1 496.2,629.4 500.0,633.1 503.1,634.8 506.2,639.4 508.1,638.8 510.0,636.5 513.8,640.0 517.2,640.0 518.8,643.1 523.1,642.5 525.0,640.2 527.5,641.0 529.4,638.5 531.9,640.2 534.4,639.8 538.8,643.1 540.6,641.5 545.0,643.1 547.8,640.6 550.6,645.0 552.5,644.4 556.2,648.1 559.4,650.2 561.9,649.8 566.2,653.8 568.1,657.5 572.5,662.2 576.2,666.0 579.4,665.2 582.3,669.0 584.4,661.9 587.9,666.6 590.8,665.7 594.9,671.9 597.8,675.4 601.3,668.4 606.2,683.2 611.5,692.0 615.9,704.2 617.6,716.5 619.9,718.2 622.3,732.2 623.7,724.4 626.4,724.4 629.9,732.2 631.6,731.4 633.9,741.9 636.0,736.6 639.5,734.9 642.1,738.4 644.7,745.4 648.2,744.5 650.9,736.6 652.6,729.6 654.4,733.1 658.7,754.1 660.5,748.9 663.6,748.9 666.1,752.4 668.4,750.6 670.6,741.0 672.4,737.5 675.9,748.0 677.6,748.9 680.6,761.1 683.2,754.1 685.0,759.4 686.4,760.2 688.1,766.4 690.6,765.8 692.9,757.6 694.6,762.0 699.0,759.4 701.6,744.5 705.1,755.9 706.9,754.1 710.4,736.6 713.5,721.4 715.1,727.0 717.4,744.5 718.8,748.9 720.0,745.4 722.6,745.9 724.4,750.6 728.7,755.9 732.2,758.5 734.9,759.9 737.5,758.1 740.1,763.4 742.7,763.7 745.4,769.0 747.6,777.4 749.4,769.0 754.1,758.8 755.9,762.0 757.6,770.4 759.4,764.6 761.1,764.6 762.9,759.4 764.6,759.4 765.8,763.7 768.6,760.2 771.6,768.1 774.9,768.1 776.6,765.5 777.9,768.1 780.5,755.0 782.2,752.9 784.9,758.5 786.6,757.1 789.2,762.9 791.9,763.7 794.5,769.0 796.6,763.7 799.4,770.4 801.1,766.4 802.9,766.9 805.9,772.1 807.6,767.2 809.4,759.9 811.6,759.9 813.7,763.7 816.9,761.6 818.6,765.5 821.1,759.4 823.4,758.8 825.1,766.9 827.7,769.9 831.2,771.6 833.9,773.9 835.6,772.5 837.4,775.1 838.6,769.9 842.1,768.1 844.4,765.5 847.0,769.9 849.6,774.2 852.2,770.7 855.7,769.9 858.4,768.1 860.6,762.3 862.7,764.6 864.8,769.3 867.6,769.0 869.4,765.5 870.8,759.4 872.4,760.2 873.6,770.7 875.3,770.4 876.4,773.4 878.1,756.7 879.7,746.6 882.3,755.9 885.5,746.2 887.2,745.4 889.9,747.1 892.5,747.1 895.1,734.9 897.7,741.0 899.8,748.3 901.6,748.0 905.6,741.9 908.2,744.1 910.9,738.9 913.1,741.0 915.2,748.0 916.6,746.6 919.6,751.1 921.4,754.6 923.6,758.1 925.4,751.8 927.5,751.8 934.5,750.1 936.2,750.1 937.6,737.5 938.9,740.1 940.6,747.1 943.6,740.1 945.0,739.2 946.7,734.9 948.5,736.1 952.0,743.6 955.1,746.2 957.2,741.9 959.3,736.6 961.1,740.1 962.5,740.6 963.9,746.6 965.4,748.2 966.6,741.3 969.6,741.9 974.3,738.9 977.1,744.5 979.2,739.2 982.7,735.7 984.5,720.0 988.9,711.6 991.8,718.2 994.1,713.0 995.9,697.2 998.1,686.7 1000.2,668.4 1001.6,686.7 1002.9,680.1 1004.6,688.8 1006.4,682.9 1009.3,690.2 1012.1,679.7 1014.2,685.9 1016.3,695.8 1019.5,685.0 1022.1,690.6 1024.4,688.8 1027.4,699.9 1029.1,702.1 1032.1,701.6 1033.5,708.1 1036.6,708.6 1038.0,712.1 1039.6,706.9 1041.4,710.9 1044.0,707.7 1045.7,710.9 1047.1,709.5 1051.9,713.0 1055.9,702.5 1058.0,700.7 1060.1,691.1 1063.2,681.5 1065.0,678.9 1067.1,671.9 1068.5,676.2 1071.6,668.4 1072.9,669.6 1074.6,665.7 1076.4,668.4 1079.3,679.7 1080.7,678.3 1082.5,681.8 1083.9,685.3 1086.3,681.5 1088.6,682.4 1093.3,671.9 1094.7,676.6 1097.4,678.0 1099.6,681.8 1100.9,688.5 1102.6,688.8 1103.8,695.1 1106.1,692.0 1108.4,705.1 1110.0,713.0 1111.4,709.5 1114.9,711.6 1117.1,709.1 1118.9,717.4 1120.6,720.0 1123.6,716.8 1125.4,719.6 1127.1,726.1 1128.9,726.6 1129.7,729.1 1132.4,725.2 1135.0,727.3 1137.6,726.6 1140.6,734.9 1142.9,731.4 1146.4,740.1 1149.0,734.9 1152.5,737.1 1154.2,738.9 1157.4,738.4 1158.7,746.2 1160.1,745.4 1161.9,739.2 1163.1,739.2 1166.6,730.5 1170.1,733.6 1172.7,734.9 1176.2,741.0 1178.3,741.9 1181.5,740.6 1184.1,741.9 1185.9,747.1 1187.6,745.9 1191.1,748.3 1193.7,750.1 1196.9,749.7 1198.1,751.1 1199.3,744.5 1201.1,747.6 1202.5,746.6 1204.6,748.9 1206.0,747.6 1209.1,752.4 1213.0,748.9 1214.4,737.5 1217.4,730.5 1219.6,734.3 1222.1,725.2 1223.8,724.9 1225.6,727.9 1227.3,727.9 1229.1,724.4 1230.8,724.4 1235.7,730.1 1238.4,734.3 1240.6,730.1 1242.4,733.6 1245.4,735.7 1248.3,741.0 1251.5,748.0 1253.6,745.4 1255.9,744.5 1257.6,750.1 1259.4,748.0 1262.0,747.6 1263.7,743.6 1266.4,746.2 1268.6,747.1 1269.9,751.5 1272.1,754.1 1274.2,759.4 1276.0,750.6 1277.4,745.9 1279.8,751.1 1282.1,758.5 1283.9,759.4 1286.5,752.4 1289.6,744.1 1292.6,751.5 1294.9,745.9 1297.9,744.1 1299.1,740.6 1300.5,745.4 1301.9,736.6 1303.6,740.1 1307.5,742.7 1309.2,741.9 1310.6,744.8 1312.7,742.4 1315.9,740.6 1317.6,736.6 1319.4,725.2 1321.5,716.5 1323.2,716.1 1324.6,707.4 1327.1,709.5 1329.4,711.2 1330.6,700.7 1332.0,699.3 1333.4,693.4 1335.5,693.7 1337.6,689.9 1339.3,691.6 1341.1,684.1 1344.2,677.5 1346.0,685.9 1348.1,692.3 1350.1,692.9 1351.7,685.8 1353.8,686.9 1356.2,683.7 1358.2,690.2 1361.1,679.6 1364.7,685.3 1367.3,680.4 1370.1,675.6 1371.7,669.9 1373.3,684.5 1374.9,682.9 1377.7,684.8 1380.9,675.6 1383.5,668.2 1385.5,668.6 1387.4,675.1 1389.6,669.1 1391.7,660.9 1394.9,676.4 1397.2,684.2 1399.3,680.9 1400.9,682.5 1403.4,679.6 1405.3,675.6 1408.2,684.8 1410.2,680.0 1412.8,678.8 1414.7,684.5 1417.2,674.7 1418.3,675.6 1422.1,664.2 1423.7,661.7 1425.3,665.0 1426.9,657.7 1428.6,656.9 1429.7,660.1 1432.9,648.7 1435.1,653.3 1438.3,645.8 1439.9,648.4 1441.6,647.1 1444.0,651.2 1446.4,652.8 1448.5,643.9 1450.8,634.1 1452.4,636.1 1454.6,629.6 1456.2,634.9 1457.8,642.6 1458.9,638.2 1461.1,634.9 1462.7,638.7 1464.8,640.6 1466.4,638.2 1467.6,630.9 1469.2,632.5 1471.3,640.9 1472.9,644.2 1474.9,642.6 1476.8,652.3 1478.4,648.4 1481.4,649.1 1483.8,647.9 1485.9,643.5 1487.5,639.0 1489.5,639.3 1491.1,643.5 1492.4,639.8 1494.4,644.7 1496.3,647.9 1498.9,656.1 1500.9,654.4 1502.5,647.1 1505.4,647.9 1507.4,644.7 1509.0,653.6 1510.6,656.1 1513.1,662.6 1514.7,658.5 1516.8,652.8 1519.6,658.8 1523.6,660.4 1525.2,665.0 1527.2,671.8 1529.3,665.0 1531.7,658.5 1534.7,673.4 1537.4,676.7 1539.9,680.9 1542.3,686.9 1545.1,684.5 1546.7,675.6 1548.3,680.4 1549.6,677.7 1551.2,678.8" stroke="#14147a" stroke-width="1.75" fill="none" stroke-linejoin="round" stroke-linecap="round"/>
<rect x="16.5" y="592.5" width="1539.5" height="192.0" fill="none" stroke="#bdbdbd" stroke-width="1.2"/>
<rect x="17.4" y="593.4" width="117" height="11.2" fill="#fff"/>
<path d="M19.5 598.7H27.6" stroke="#14147a" stroke-width="2"/>
<text transform="translate(31.5,602.7) scale(1.15,1)" font-size="9.5" fill="#000" letter-spacing="0.55" class="ax">RPV:RPG -13.38%</text>
<text x="1583.2" y="785.3" class="ax" font-size="10.2" fill="#111" text-anchor="end" letter-spacing="0.1">-40%</text>
<text x="1583.2" y="765.9" class="ax" font-size="10.2" fill="#111" text-anchor="end" letter-spacing="0.1">-35%</text>
<text x="1583.2" y="746.5" class="ax" font-size="10.2" fill="#111" text-anchor="end" letter-spacing="0.1">-30%</text>
<text x="1583.2" y="727.1" class="ax" font-size="10.2" fill="#111" text-anchor="end" letter-spacing="0.1">-25%</text>
<text x="1583.2" y="707.8" class="ax" font-size="10.2" fill="#111" text-anchor="end" letter-spacing="0.1">-20%</text>
<text x="1583.2" y="669.0" class="ax" font-size="10.2" fill="#111" text-anchor="end" letter-spacing="0.1">-10%</text>
<text x="1583.2" y="649.7" class="ax" font-size="10.2" fill="#111" text-anchor="end" letter-spacing="0.1">-5%</text>
<text x="1583.2" y="630.3" class="ax" font-size="10.2" fill="#111" text-anchor="end" letter-spacing="0.1">0%</text>
<text x="1583.2" y="610.9" class="ax" font-size="10.2" fill="#111" text-anchor="end" letter-spacing="0.1">5%</text>
<text x="1583.2" y="688.4" class="ax" font-size="10.2" fill="#111" text-anchor="end" letter-spacing="0.1">-15%</text>
<path d="M1554.8 679.3l4.4 -5.2H1601v10.4H1559.2z" fill="#fff" stroke="#101070" stroke-width="1.6"/>
<text x="1599.5" y="683.2" font-size="10.6" font-weight="bold" fill="#000" text-anchor="end" textLength="39.6" lengthAdjust="spacingAndGlyphs">-13.38%</text>
</svg>
</body></html>
